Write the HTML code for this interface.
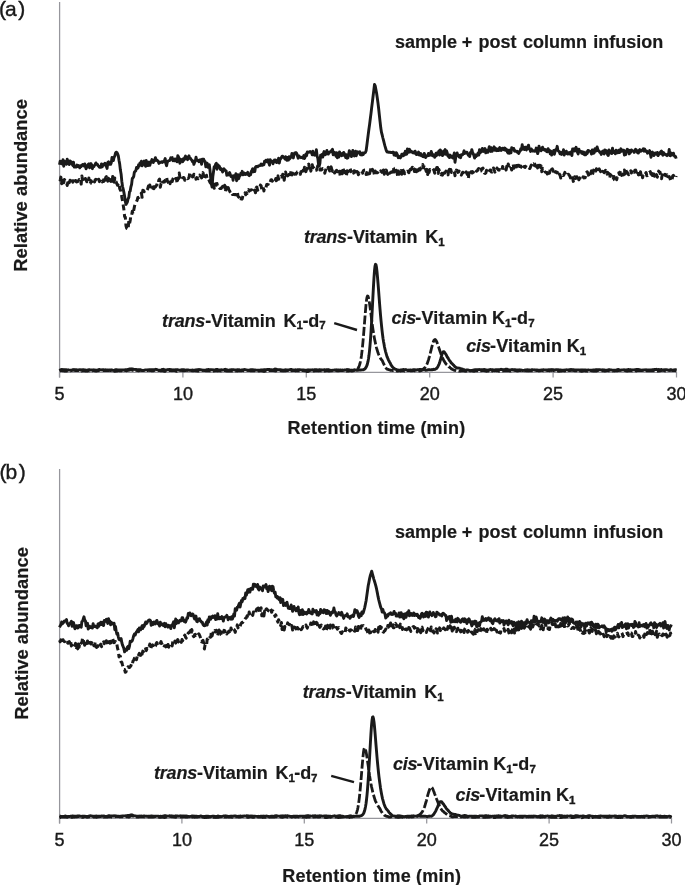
<!DOCTYPE html>
<html><head><meta charset="utf-8"><title>Figure</title>
<style>
html,body{margin:0;padding:0;background:#fff;}
body{width:685px;height:885px;overflow:hidden;font-family:"Liberation Sans",Arial,sans-serif;}
svg{display:block}
.ax line{stroke:#96969c;stroke-width:1.25}
.tr path{fill:none;stroke:#1a1a1a;stroke-linejoin:round;stroke-linecap:butt}
.tl text{font-size:18px;fill:#1a1a1a;text-anchor:middle;stroke:#1a1a1a;stroke-width:0.4px}
.b{font-weight:bold;font-size:18px;fill:#1a1a1a;stroke:#1a1a1a;stroke-width:0.2px}
.i{font-style:italic}
.sub{font-size:11.5px;stroke-width:0.4px}
.rl{font-size:18.4px}
.pl{font-size:21px;fill:#1a1a1a;stroke:#1a1a1a;stroke-width:0.4px}
</style></head><body>
<svg width="685" height="885" viewBox="0 0 685 885" font-family="'Liberation Sans',Arial,sans-serif">
<rect width="685" height="885" fill="#fff"/>
<g class="ax">
<line x1="59.6" y1="2" x2="59.6" y2="377.5"/>
<line x1="59" y1="372.4" x2="677" y2="372.4"/>
<line x1="59.5" y1="372.0" x2="59.5" y2="377.5"/><line x1="182.9" y1="372.0" x2="182.9" y2="377.5"/><line x1="306.3" y1="372.0" x2="306.3" y2="377.5"/><line x1="429.7" y1="372.0" x2="429.7" y2="377.5"/><line x1="553.1" y1="372.0" x2="553.1" y2="377.5"/><line x1="676.5" y1="372.0" x2="676.5" y2="377.5"/>
<line x1="59.6" y1="469" x2="59.6" y2="823.5"/>
<line x1="59" y1="818.4" x2="672" y2="818.4"/>
<line x1="59.5" y1="818.0" x2="59.5" y2="823.5"/><line x1="181.9" y1="818.0" x2="181.9" y2="823.5"/><line x1="304.3" y1="818.0" x2="304.3" y2="823.5"/><line x1="426.7" y1="818.0" x2="426.7" y2="823.5"/><line x1="549.1" y1="818.0" x2="549.1" y2="823.5"/><line x1="671.5" y1="818.0" x2="671.5" y2="823.5"/>
</g>
<g class="tl">
<text x="59.5" y="399.6">5</text><text x="182.9" y="399.6">10</text><text x="306.3" y="399.6">15</text><text x="429.7" y="399.6">20</text><text x="553.1" y="399.6">25</text><text x="676.5" y="399.6">30</text>
<text x="59.5" y="846.0">5</text><text x="181.9" y="846.0">10</text><text x="304.3" y="846.0">15</text><text x="426.7" y="846.0">20</text><text x="549.1" y="846.0">25</text><text x="671.5" y="846.0">30</text>
</g>
<text class="pl" x="-1.0 5.0 18.3" y="15.6">(a)</text>
<text class="pl" x="-0.6 5.6 18.7" y="478.9">(b)</text>
<text class="b rl" transform="translate(27.1,271.7) rotate(-90)">Relative abundance</text>
<text class="b rl" transform="translate(28.3,719.8) rotate(-90)">Relative abundance</text>
<text class="b" y="433.7" letter-spacing="0.22"><tspan x="287.5">Retention </tspan><tspan x="377.4">time </tspan><tspan x="420.4">(min)</tspan></text>
<text class="b" y="881.8" letter-spacing="0.22"><tspan x="282.2">Retention </tspan><tspan x="373.0">time </tspan><tspan x="416.0">(min)</tspan></text>
<text class="b" y="48.3"><tspan x="395.0">sample </tspan><tspan x="461.7">+ </tspan><tspan x="478.6">post </tspan><tspan x="522.9">column </tspan><tspan x="593.2">infusion</tspan></text>
<text class="b" y="538.0"><tspan x="395.0">sample </tspan><tspan x="461.7">+ </tspan><tspan x="478.6">post </tspan><tspan x="522.9">column </tspan><tspan x="593.2">infusion</tspan></text>

<text class="b" x="303.9" y="242.8"><tspan class="i" letter-spacing="-0.2">trans</tspan>-Vitamin<tspan dx="2.7"> K</tspan><tspan class="sub" dy="2.8" dx="0.05">1</tspan></text>
<text class="b" x="162.1" y="326.6"><tspan class="i" letter-spacing="-0.2">trans</tspan>-Vitamin<tspan dx="2.7"> K</tspan><tspan class="sub" dy="2.8" dx="0.05">1</tspan><tspan dy="-2.8" dx="-0.6">-d</tspan><tspan class="sub" dy="2.8" dx="-0.2">7</tspan></text>
<text class="b" x="391.6" y="323.8"><tspan class="i" letter-spacing="-0.2">cis</tspan><tspan dx="-0.75" letter-spacing="0.2">-Vitamin</tspan><tspan dx="-0.6"> K</tspan><tspan class="sub" dy="2.8" dx="0.05">1</tspan><tspan dy="-2.8" dx="-0.4">-d</tspan><tspan class="sub" dy="2.8" dx="0.1">7</tspan></text>
<text class="b" x="466.3" y="351.8"><tspan class="i" letter-spacing="-0.2">cis</tspan><tspan dx="-0.75" letter-spacing="0.2">-Vitamin</tspan><tspan dx="-0.6"> K</tspan><tspan class="sub" dy="2.8" dx="0.05">1</tspan></text>
<text class="b" x="302.8" y="698.0"><tspan class="i" letter-spacing="-0.2">trans</tspan>-Vitamin<tspan dx="2.7"> K</tspan><tspan class="sub" dy="2.8" dx="0.05">1</tspan></text>
<text class="b" x="154.0" y="778.7"><tspan class="i" letter-spacing="-0.2">trans</tspan>-Vitamin<tspan dx="2.7"> K</tspan><tspan class="sub" dy="2.8" dx="0.05">1</tspan><tspan dy="-2.8" dx="-0.6">-d</tspan><tspan class="sub" dy="2.8" dx="-0.2">7</tspan></text>
<text class="b" x="392.9" y="769.8"><tspan class="i" letter-spacing="-0.2">cis</tspan><tspan dx="-0.75" letter-spacing="0.2">-Vitamin</tspan><tspan dx="-0.6"> K</tspan><tspan class="sub" dy="2.8" dx="0.05">1</tspan><tspan dy="-2.8" dx="-0.4">-d</tspan><tspan class="sub" dy="2.8" dx="0.1">7</tspan></text>
<text class="b" x="455.6" y="800.9"><tspan class="i" letter-spacing="-0.2">cis</tspan><tspan dx="-0.75" letter-spacing="0.2">-Vitamin</tspan><tspan dx="-0.6"> K</tspan><tspan class="sub" dy="2.8" dx="0.05">1</tspan></text>

<g class="tr">
<path d="M59.5 179.2L60.2 180.0L60.9 177.1L61.6 183.7L62.3 178.5L63.0 180.5L63.7 182.8L64.4 179.5L65.1 180.6L65.8 180.6L66.5 182.5L67.2 185.5L67.9 181.6L68.6 179.5L69.3 182.7L70.0 180.3L70.7 181.2L71.4 183.8L72.1 180.8L72.8 182.2L73.5 180.9L74.2 182.4L74.9 182.9L75.6 180.5L76.3 181.9L77.0 181.8L77.7 181.5L78.4 180.6L79.1 179.6L79.8 181.1L80.5 180.6L81.2 184.1L81.9 176.0L82.6 179.7L83.3 180.7L84.0 182.1L84.7 180.9L85.4 178.5L86.1 180.1L86.8 181.8L87.5 180.6L88.2 182.2L88.9 177.9L89.6 183.8L90.3 183.6L91.0 180.6L91.7 181.8L92.4 181.0L93.1 179.3L93.8 180.4L94.5 182.0L95.2 179.7L95.9 179.3L96.6 179.6L97.3 180.0L98.0 182.1L98.7 179.3L99.4 181.6L100.1 180.3L100.8 179.0L101.5 180.8L102.2 182.0L102.9 180.6L103.6 181.5L104.3 177.0L105.0 180.4L105.7 177.5L106.4 176.6L107.1 179.6L107.8 181.1L108.5 178.2L109.2 181.4L109.9 179.7L110.6 181.1L111.3 179.3L112.0 183.7L112.7 176.4L113.4 181.2L114.1 182.2L114.8 178.1L115.5 181.7L116.2 182.0L116.9 183.9L117.6 185.3L118.3 183.6L119.0 182.9L119.7 188.5L120.4 190.0L121.1 191.4L121.8 196.9L122.5 200.8L123.2 205.1L123.9 209.6L124.6 216.5L125.3 217.1L126.0 225.9L126.7 228.4L127.4 228.7L128.1 229.6L128.8 221.1L129.5 223.9L130.2 220.5L130.9 215.4L131.6 215.6L132.3 211.2L133.0 213.9L133.7 210.5L134.4 206.7L135.1 204.1L135.8 203.1L136.5 201.5L137.2 200.1L137.9 197.4L138.6 197.5L139.3 197.3L140.0 195.8L140.7 194.5L141.4 193.0L142.1 197.3L142.8 190.3L143.5 190.4L144.2 191.7L144.9 189.9L145.6 190.4L146.3 190.2L147.0 190.2L147.7 188.9L148.4 186.0L149.1 189.6L149.8 184.9L150.5 186.9L151.2 186.5L151.9 185.5L152.6 188.2L153.3 186.9L154.0 188.6L154.7 183.9L155.4 187.1L156.1 185.8L156.8 185.1L157.5 182.1L158.2 182.9L158.9 179.9L159.6 179.1L160.3 187.3L161.0 183.7L161.7 184.0L162.4 180.8L163.1 182.1L163.8 181.4L164.5 182.0L165.2 180.3L165.9 179.6L166.6 177.1L167.3 181.2L168.0 182.0L168.7 183.6L169.4 180.4L170.1 183.7L170.8 180.5L171.5 178.5L172.2 181.6L172.9 178.9L173.6 177.8L174.3 179.9L175.0 180.1L175.7 178.4L176.4 178.5L177.1 183.5L177.8 178.1L178.5 178.9L179.2 173.1L179.9 177.0L180.6 178.7L181.3 176.8L182.0 176.4L182.7 177.8L183.4 177.5L184.1 177.7L184.8 180.3L185.5 179.7L186.2 178.8L186.9 177.6L187.6 178.6L188.3 178.3L189.0 177.4L189.7 173.4L190.4 175.8L191.1 176.1L191.8 175.8L192.5 177.0L193.2 176.6L193.9 174.2L194.6 174.7L195.3 174.5L196.0 179.3L196.7 177.6L197.4 178.0L198.1 178.7L198.8 176.1L199.5 175.1L200.2 176.1L200.9 175.9L201.6 177.9L202.3 176.0L203.0 172.6L203.7 175.8L204.4 176.5L205.1 173.5L205.8 177.0L206.5 175.2L207.2 179.8L207.9 180.0L208.6 179.5L209.3 180.7L210.0 182.6L210.7 182.4L211.4 185.2L212.1 185.9L212.8 183.9L213.5 184.2L214.2 188.3L214.9 185.3L215.6 183.8L216.3 185.2L217.0 183.5L217.7 187.1L218.4 186.7L219.1 187.4L219.8 188.4L220.5 188.3L221.2 188.5L221.9 187.3L222.6 186.4L223.3 186.7L224.0 189.0L224.7 185.3L225.4 191.9L226.1 187.1L226.8 189.9L227.5 188.9L228.2 187.5L228.9 190.1L229.6 190.8L230.3 192.4L231.0 193.7L231.7 192.7L232.4 194.5L233.1 194.6L233.8 194.6L234.5 194.5L235.2 194.7L235.9 194.6L236.6 194.9L237.3 191.7L238.0 196.1L238.7 197.2L239.4 197.5L240.1 199.4L240.8 201.0L241.5 198.3L242.2 198.8L242.9 195.9L243.6 195.1L244.3 194.9L245.0 192.9L245.7 194.8L246.4 192.7L247.1 193.5L247.8 190.6L248.5 189.7L249.2 191.2L249.9 190.3L250.6 190.3L251.3 189.7L252.0 190.1L252.7 192.1L253.4 192.7L254.1 191.3L254.8 190.0L255.5 192.8L256.2 187.6L256.9 187.0L257.6 190.3L258.3 189.1L259.0 188.5L259.7 188.0L260.4 185.0L261.1 185.7L261.8 189.7L262.5 189.4L263.2 187.2L263.9 191.0L264.6 186.8L265.3 187.1L266.0 187.5L266.7 184.5L267.4 184.9L268.1 184.4L268.8 182.4L269.5 183.4L270.2 182.1L270.9 179.9L271.6 179.7L272.3 181.1L273.0 180.0L273.7 179.0L274.4 181.2L275.1 180.7L275.8 178.5L276.5 180.6L277.2 176.4L277.9 175.8L278.6 179.3L279.3 176.5L280.0 176.5L280.7 177.2L281.4 176.2L282.1 177.2L282.8 174.2L283.5 175.0L284.2 180.2L284.9 175.6L285.6 172.0L286.3 175.1L287.0 175.0L287.7 175.9L288.4 173.7L289.1 172.3L289.8 174.8L290.5 173.7L291.2 170.1L291.9 174.9L292.6 173.1L293.3 175.3L294.0 172.7L294.7 174.3L295.4 173.6L296.1 174.1L296.8 172.9L297.5 171.8L298.2 171.6L298.9 172.9L299.6 172.9L300.3 174.3L301.0 171.6L301.7 171.3L302.4 173.9L303.1 170.2L303.8 170.7L304.5 167.2L305.2 168.7L305.9 171.6L306.6 168.2L307.3 169.0L308.0 164.8L308.7 164.1L309.4 167.8L310.1 165.1L310.8 171.2L311.5 168.8L312.2 164.7L312.9 167.8L313.6 167.5L314.3 168.5L315.0 167.8L315.7 169.0L316.4 170.2L317.1 168.1L317.8 165.8L318.5 167.9L319.2 167.7L319.9 170.0L320.6 168.7L321.3 169.9L322.0 169.5L322.7 168.6L323.4 168.8L324.1 170.2L324.8 173.2L325.5 170.4L326.2 168.3L326.9 169.9L327.6 169.6L328.3 167.2L329.0 169.2L329.7 171.0L330.4 168.2L331.1 166.8L331.8 169.2L332.5 171.4L333.2 170.0L333.9 170.5L334.6 173.0L335.3 171.8L336.0 170.8L336.7 170.4L337.4 171.7L338.1 171.3L338.8 173.5L339.5 171.3L340.2 175.8L340.9 172.8L341.6 171.1L342.3 173.7L343.0 168.6L343.7 170.3L344.4 171.4L345.1 172.7L345.8 171.5L346.5 175.2L347.2 170.8L347.9 171.8L348.6 170.2L349.3 172.2L350.0 170.3L350.7 171.6L351.4 169.8L352.1 169.6L352.8 171.0L353.5 173.1L354.2 170.7L354.9 171.1L355.6 172.8L356.3 174.3L357.0 171.5L357.7 172.4L358.4 174.7L359.1 173.1L359.8 173.6L360.5 174.8L361.2 173.5L361.9 172.8L362.6 173.2L363.3 170.8L364.0 170.4L364.7 170.0L365.4 170.0L366.1 174.5L366.8 172.6L367.5 174.2L368.2 174.1L368.9 171.8L369.6 173.7L370.3 170.9L371.0 168.4L371.7 170.8L372.4 169.4L373.1 171.0L373.8 172.0L374.5 175.1L375.2 170.9L375.9 172.2L376.6 172.7L377.3 172.7L378.0 172.2L378.7 171.0L379.4 171.7L380.1 172.5L380.8 170.8L381.5 171.8L382.2 171.0L382.9 174.1L383.6 170.1L384.3 174.3L385.0 170.9L385.7 170.0L386.4 170.2L387.1 173.4L387.8 174.3L388.5 171.2L389.2 173.3L389.9 173.1L390.6 172.5L391.3 172.2L392.0 172.2L392.7 167.6L393.4 168.0L394.1 172.1L394.8 171.6L395.5 173.2L396.2 170.2L396.9 171.7L397.6 175.9L398.3 171.1L399.0 174.3L399.7 172.3L400.4 172.6L401.1 170.6L401.8 174.2L402.5 168.7L403.2 170.8L403.9 171.2L404.6 173.8L405.3 172.4L406.0 172.9L406.7 171.5L407.4 171.2L408.1 171.6L408.8 172.7L409.5 170.5L410.2 167.0L410.9 169.8L411.6 168.4L412.3 167.2L413.0 167.8L413.7 166.8L414.4 171.6L415.1 168.9L415.8 167.4L416.5 171.8L417.2 169.9L417.9 172.8L418.6 171.5L419.3 168.7L420.0 170.0L420.7 168.0L421.4 168.2L422.1 167.5L422.8 164.5L423.5 167.8L424.2 165.1L424.9 166.1L425.6 169.4L426.3 171.5L427.0 169.5L427.7 174.6L428.4 168.2L429.1 172.5L429.8 169.5L430.5 169.9L431.2 168.8L431.9 168.2L432.6 168.2L433.3 169.1L434.0 170.5L434.7 173.2L435.4 169.0L436.1 169.7L436.8 167.4L437.5 167.5L438.2 173.4L438.9 169.5L439.6 171.7L440.3 173.6L441.0 174.8L441.7 173.4L442.4 175.2L443.1 173.2L443.8 170.5L444.5 173.3L445.2 172.4L445.9 171.1L446.6 172.8L447.3 172.5L448.0 174.9L448.7 170.7L449.4 169.3L450.1 172.3L450.8 169.5L451.5 172.5L452.2 172.3L452.9 170.5L453.6 171.3L454.3 171.6L455.0 175.7L455.7 172.7L456.4 170.1L457.1 170.4L457.8 172.4L458.5 172.1L459.2 171.2L459.9 172.7L460.6 172.6L461.3 175.1L462.0 173.6L462.7 172.2L463.4 172.7L464.1 171.2L464.8 173.6L465.5 172.8L466.2 171.9L466.9 173.7L467.6 174.0L468.3 178.7L469.0 172.8L469.7 174.2L470.4 174.4L471.1 171.8L471.8 172.9L472.5 171.6L473.2 172.6L473.9 173.6L474.6 174.6L475.3 173.4L476.0 171.7L476.7 170.8L477.4 170.8L478.1 169.1L478.8 168.5L479.5 171.6L480.2 171.0L480.9 170.9L481.6 168.9L482.3 169.2L483.0 168.1L483.7 170.8L484.4 173.1L485.1 173.4L485.8 173.0L486.5 170.3L487.2 171.5L487.9 171.3L488.6 172.9L489.3 171.6L490.0 169.9L490.7 169.9L491.4 171.9L492.1 172.0L492.8 171.1L493.5 167.9L494.2 169.9L494.9 172.1L495.6 170.7L496.3 171.2L497.0 168.0L497.7 169.1L498.4 169.9L499.1 170.3L499.8 169.6L500.5 169.9L501.2 171.1L501.9 171.2L502.6 166.5L503.3 167.9L504.0 168.2L504.7 167.8L505.4 166.5L506.1 170.1L506.8 166.2L507.5 168.3L508.2 163.9L508.9 165.8L509.6 166.0L510.3 164.8L511.0 167.6L511.7 170.0L512.4 164.9L513.1 164.1L513.8 168.3L514.5 166.7L515.2 165.9L515.9 163.6L516.6 166.9L517.3 165.8L518.0 168.7L518.7 165.3L519.4 166.4L520.1 166.0L520.8 166.1L521.5 167.4L522.2 167.7L522.9 164.9L523.6 166.8L524.3 166.5L525.0 167.5L525.7 166.3L526.4 165.1L527.1 165.8L527.8 166.9L528.5 167.7L529.2 168.2L529.9 168.5L530.6 166.7L531.3 165.1L532.0 166.4L532.7 164.2L533.4 163.9L534.1 165.3L534.8 165.2L535.5 166.2L536.2 163.9L536.9 163.8L537.6 167.9L538.3 165.4L539.0 169.0L539.7 165.2L540.4 167.4L541.1 165.8L541.8 171.7L542.5 168.1L543.2 169.7L543.9 169.6L544.6 171.2L545.3 172.1L546.0 172.4L546.7 172.5L547.4 174.0L548.1 170.3L548.8 173.0L549.5 173.2L550.2 169.2L550.9 171.4L551.6 169.4L552.3 168.8L553.0 170.2L553.7 173.7L554.4 174.6L555.1 172.8L555.8 171.7L556.5 172.8L557.2 172.2L557.9 172.8L558.6 170.9L559.3 174.2L560.0 174.9L560.7 178.0L561.4 175.7L562.1 174.9L562.8 175.6L563.5 175.6L564.2 174.2L564.9 172.4L565.6 175.3L566.3 175.5L567.0 175.6L567.7 174.4L568.4 174.2L569.1 175.1L569.8 176.0L570.5 178.0L571.2 178.1L571.9 180.2L572.6 177.8L573.3 181.4L574.0 179.6L574.7 176.8L575.4 178.4L576.1 178.3L576.8 176.7L577.5 179.9L578.2 178.2L578.9 179.8L579.6 177.8L580.3 179.3L581.0 180.3L581.7 178.4L582.4 178.3L583.1 176.9L583.8 177.9L584.5 177.3L585.2 177.6L585.9 175.5L586.6 172.3L587.3 171.8L588.0 173.6L588.7 175.5L589.4 177.4L590.1 174.7L590.8 172.8L591.5 170.8L592.2 175.2L592.9 173.3L593.6 170.1L594.3 173.3L595.0 171.6L595.7 171.2L596.4 168.7L597.1 172.7L597.8 171.0L598.5 169.8L599.2 168.9L599.9 170.3L600.6 171.7L601.3 170.3L602.0 172.4L602.7 171.3L603.4 171.8L604.1 172.7L604.8 172.0L605.5 170.3L606.2 172.2L606.9 174.1L607.6 172.3L608.3 173.4L609.0 173.4L609.7 178.2L610.4 174.5L611.1 175.5L611.8 176.0L612.5 179.9L613.2 179.6L613.9 176.4L614.6 178.1L615.3 175.4L616.0 176.6L616.7 179.7L617.4 176.6L618.1 175.2L618.8 172.9L619.5 174.4L620.2 172.3L620.9 170.6L621.6 175.4L622.3 174.6L623.0 174.0L623.7 174.9L624.4 170.1L625.1 174.0L625.8 169.4L626.5 172.2L627.2 172.3L627.9 173.6L628.6 174.8L629.3 172.1L630.0 171.8L630.7 170.8L631.4 173.0L632.1 170.8L632.8 169.7L633.5 170.4L634.2 172.3L634.9 170.3L635.6 170.1L636.3 172.1L637.0 170.5L637.7 170.1L638.4 174.7L639.1 173.9L639.8 177.2L640.5 171.8L641.2 175.6L641.9 173.8L642.6 177.8L643.3 174.2L644.0 173.7L644.7 174.7L645.4 173.8L646.1 172.6L646.8 175.7L647.5 175.6L648.2 174.9L648.9 173.4L649.6 172.1L650.3 171.6L651.0 174.1L651.7 171.5L652.4 175.6L653.1 174.5L653.8 173.9L654.5 176.3L655.2 175.0L655.9 176.8L656.6 174.6L657.3 177.2L658.0 174.0L658.7 171.1L659.4 172.4L660.1 172.2L660.8 177.1L661.5 178.7L662.2 175.1L662.9 173.1L663.6 176.2L664.3 175.4L665.0 174.2L665.7 175.5L666.4 175.9L667.1 174.7L667.8 178.2L668.5 176.9L669.2 176.6L669.9 177.7L670.6 180.8L671.3 181.1L672.0 179.8L672.7 176.1L673.4 175.3L674.1 177.4L674.8 177.5L675.5 178.3L676.2 175.9" stroke-width="3.0" stroke-dasharray="6 3.6"/>
<path d="M59.5 164.7L60.2 161.1L60.9 162.0L61.6 161.3L62.3 164.1L63.0 159.6L63.7 166.2L64.4 161.1L65.1 163.4L65.8 161.4L66.5 164.4L67.2 159.2L67.9 161.2L68.6 161.4L69.3 164.6L70.0 160.9L70.7 162.9L71.4 161.9L72.1 164.0L72.8 165.4L73.5 162.1L74.2 167.1L74.9 167.0L75.6 166.9L76.3 167.0L77.0 165.0L77.7 166.6L78.4 165.5L79.1 166.2L79.8 167.8L80.5 165.7L81.2 166.4L81.9 165.2L82.6 164.5L83.3 164.7L84.0 165.9L84.7 163.9L85.4 166.4L86.1 168.8L86.8 167.1L87.5 165.5L88.2 164.4L88.9 163.8L89.6 167.8L90.3 164.6L91.0 163.6L91.7 165.6L92.4 168.7L93.1 165.9L93.8 166.7L94.5 165.4L95.2 164.5L95.9 162.9L96.6 164.1L97.3 164.1L98.0 165.6L98.7 166.1L99.4 167.2L100.1 166.5L100.8 167.3L101.5 163.9L102.2 166.8L102.9 165.2L103.6 164.3L104.3 164.8L105.0 163.3L105.7 165.2L106.4 166.5L107.1 168.4L107.8 162.4L108.5 161.8L109.2 163.7L109.9 164.4L110.6 164.4L111.3 162.7L112.0 157.5L112.7 159.7L113.4 160.4L114.1 157.1L114.8 156.1L115.5 153.2L116.2 152.2L116.9 152.5L117.6 153.9L118.3 155.7L119.0 160.2L119.7 164.1L120.4 170.1L121.1 173.9L121.8 181.2L122.5 186.3L123.2 189.0L123.9 192.4L124.6 196.2L125.3 201.5L126.0 204.4L126.7 203.3L127.4 201.9L128.1 198.8L128.8 197.6L129.5 191.9L130.2 191.1L130.9 186.8L131.6 184.3L132.3 178.4L133.0 177.8L133.7 176.5L134.4 172.0L135.1 171.4L135.8 170.7L136.5 167.5L137.2 168.5L137.9 168.1L138.6 164.7L139.3 165.9L140.0 162.9L140.7 163.3L141.4 161.2L142.1 165.9L142.8 164.1L143.5 162.9L144.2 161.1L144.9 164.5L145.6 166.3L146.3 160.4L147.0 165.3L147.7 165.6L148.4 163.6L149.1 162.0L149.8 165.4L150.5 162.9L151.2 161.7L151.9 159.6L152.6 162.1L153.3 162.5L154.0 159.9L154.7 160.6L155.4 157.6L156.1 160.2L156.8 159.9L157.5 160.8L158.2 161.3L158.9 163.4L159.6 162.9L160.3 162.3L161.0 162.2L161.7 161.8L162.4 162.4L163.1 161.5L163.8 161.7L164.5 160.4L165.2 158.5L165.9 163.6L166.6 165.7L167.3 162.2L168.0 161.1L168.7 160.6L169.4 160.6L170.1 159.9L170.8 157.8L171.5 158.1L172.2 157.5L172.9 160.7L173.6 160.0L174.3 160.8L175.0 158.9L175.7 160.8L176.4 159.3L177.1 161.8L177.8 155.6L178.5 157.0L179.2 159.5L179.9 163.2L180.6 159.1L181.3 160.0L182.0 159.7L182.7 161.7L183.4 158.7L184.1 160.1L184.8 157.7L185.5 156.1L186.2 158.6L186.9 158.6L187.6 159.6L188.3 156.9L189.0 155.9L189.7 158.3L190.4 158.3L191.1 159.4L191.8 160.2L192.5 161.7L193.2 161.0L193.9 164.4L194.6 162.2L195.3 161.2L196.0 157.2L196.7 160.2L197.4 160.3L198.1 160.8L198.8 161.6L199.5 159.9L200.2 161.8L200.9 159.7L201.6 164.3L202.3 159.1L203.0 159.2L203.7 159.3L204.4 161.2L205.1 161.6L205.8 166.7L206.5 163.5L207.2 163.2L207.9 167.3L208.6 165.2L209.3 164.7L210.0 170.3L210.7 177.7L211.4 184.2L212.1 187.1L212.8 176.9L213.5 171.7L214.2 166.6L214.9 167.6L215.6 164.3L216.3 163.3L217.0 169.2L217.7 164.6L218.4 165.5L219.1 165.9L219.8 167.4L220.5 169.4L221.2 168.6L221.9 170.3L222.6 171.9L223.3 170.3L224.0 168.8L224.7 170.0L225.4 170.5L226.1 170.8L226.8 175.3L227.5 173.7L228.2 174.0L228.9 174.9L229.6 172.6L230.3 174.6L231.0 176.5L231.7 176.4L232.4 176.0L233.1 180.2L233.8 175.6L234.5 177.0L235.2 177.1L235.9 173.7L236.6 180.7L237.3 177.5L238.0 174.7L238.7 178.7L239.4 176.4L240.1 175.6L240.8 173.3L241.5 174.3L242.2 171.3L242.9 174.8L243.6 172.8L244.3 173.3L245.0 174.6L245.7 173.7L246.4 173.4L247.1 174.3L247.8 172.3L248.5 175.0L249.2 175.6L249.9 174.5L250.6 174.8L251.3 171.4L252.0 170.1L252.7 168.7L253.4 171.9L254.1 169.1L254.8 171.6L255.5 167.0L256.2 166.4L256.9 166.4L257.6 166.8L258.3 165.9L259.0 165.8L259.7 165.6L260.4 165.3L261.1 164.1L261.8 165.4L262.5 165.3L263.2 164.1L263.9 164.6L264.6 161.1L265.3 162.1L266.0 160.2L266.7 161.3L267.4 161.9L268.1 159.8L268.8 162.6L269.5 165.2L270.2 159.7L270.9 161.0L271.6 160.9L272.3 161.6L273.0 163.8L273.7 161.7L274.4 160.0L275.1 161.6L275.8 160.0L276.5 162.6L277.2 161.4L277.9 162.3L278.6 158.3L279.3 163.1L280.0 159.4L280.7 158.7L281.4 157.5L282.1 156.3L282.8 156.3L283.5 157.3L284.2 157.4L284.9 158.9L285.6 156.7L286.3 159.7L287.0 160.3L287.7 157.6L288.4 160.1L289.1 156.6L289.8 158.8L290.5 157.0L291.2 157.3L291.9 153.5L292.6 155.4L293.3 157.9L294.0 154.7L294.7 152.9L295.4 153.7L296.1 152.6L296.8 153.6L297.5 156.1L298.2 158.2L298.9 156.0L299.6 156.9L300.3 157.1L301.0 157.7L301.7 157.5L302.4 157.1L303.1 158.2L303.8 155.6L304.5 158.5L305.2 156.9L305.9 154.1L306.6 155.6L307.3 151.9L308.0 152.1L308.7 152.4L309.4 151.8L310.1 151.5L310.8 152.3L311.5 152.5L312.2 154.8L312.9 151.1L313.6 154.8L314.3 153.4L315.0 155.2L315.7 154.4L316.4 149.8L317.1 156.0L317.8 158.2L318.5 164.0L319.2 166.1L319.9 163.3L320.6 155.2L321.3 156.2L322.0 154.4L322.7 157.1L323.4 153.6L324.1 151.6L324.8 154.8L325.5 154.5L326.2 153.1L326.9 150.5L327.6 152.5L328.3 154.1L329.0 152.6L329.7 152.2L330.4 152.0L331.1 150.7L331.8 151.1L332.5 149.3L333.2 154.8L333.9 152.2L334.6 154.2L335.3 152.8L336.0 156.2L336.7 152.7L337.4 157.7L338.1 154.5L338.8 157.0L339.5 151.9L340.2 153.7L340.9 153.8L341.6 155.7L342.3 153.5L343.0 155.3L343.7 152.4L344.4 153.7L345.1 155.8L345.8 157.6L346.5 154.7L347.2 158.2L347.9 157.8L348.6 155.1L349.3 150.8L350.0 151.9L350.7 154.0L351.4 156.6L352.1 154.3L352.8 150.5L353.5 152.8L354.2 156.0L354.9 153.2L355.6 151.2L356.3 155.7L357.0 152.6L357.7 151.8L358.4 153.0L359.1 152.7L359.8 151.7L360.5 154.9L361.2 154.6L361.9 154.9L362.6 153.0L363.3 154.4L364.0 152.9L364.7 152.8L365.4 152.5L366.1 150.8L366.8 145.7L367.5 140.1L368.2 134.6L368.9 129.3L369.6 124.4L370.3 118.8L371.0 113.4L371.7 107.4L372.4 101.9L373.1 96.0L373.8 90.4L374.5 84.4L375.2 85.8L375.9 89.6L376.6 93.3L377.3 98.0L378.0 103.1L378.7 109.0L379.4 115.6L380.1 121.8L380.8 128.1L381.5 132.4L382.2 135.0L382.9 138.0L383.6 140.7L384.3 143.5L385.0 146.2L385.7 148.5L386.4 150.8L387.1 152.0L387.8 151.9L388.5 152.2L389.2 152.1L389.9 152.2L390.6 152.5L391.3 152.4L392.0 152.5L392.7 152.2L393.4 152.1L394.1 155.1L394.8 153.0L395.5 155.4L396.2 152.7L396.9 153.7L397.6 155.8L398.3 157.7L399.0 156.2L399.7 156.9L400.4 157.9L401.1 156.6L401.8 154.2L402.5 154.6L403.2 155.8L403.9 153.4L404.6 154.9L405.3 151.3L406.0 153.4L406.7 154.2L407.4 148.9L408.1 150.6L408.8 152.2L409.5 149.3L410.2 151.9L410.9 151.0L411.6 151.5L412.3 152.5L413.0 152.8L413.7 152.1L414.4 153.1L415.1 151.2L415.8 153.2L416.5 154.6L417.2 153.1L417.9 154.2L418.6 152.1L419.3 155.1L420.0 153.8L420.7 153.4L421.4 155.8L422.1 155.0L422.8 156.5L423.5 156.7L424.2 153.4L424.9 155.1L425.6 157.5L426.3 156.3L427.0 155.7L427.7 155.8L428.4 153.4L429.1 155.4L429.8 155.1L430.5 155.1L431.2 151.5L431.9 153.5L432.6 155.8L433.3 154.8L434.0 154.9L434.7 157.3L435.4 156.2L436.1 153.1L436.8 155.4L437.5 153.0L438.2 152.8L438.9 151.0L439.6 155.1L440.3 150.0L441.0 151.1L441.7 153.6L442.4 155.6L443.1 155.1L443.8 150.9L444.5 152.1L445.2 149.6L445.9 154.4L446.6 150.8L447.3 153.2L448.0 156.3L448.7 155.0L449.4 157.6L450.1 155.1L450.8 156.2L451.5 157.3L452.2 156.2L452.9 158.0L453.6 156.2L454.3 153.0L455.0 162.2L455.7 157.5L456.4 155.7L457.1 153.0L457.8 155.4L458.5 155.0L459.2 156.9L459.9 155.6L460.6 157.7L461.3 154.8L462.0 154.8L462.7 154.7L463.4 153.0L464.1 150.8L464.8 153.4L465.5 153.2L466.2 152.4L466.9 152.2L467.6 153.7L468.3 155.2L469.0 154.2L469.7 156.6L470.4 152.4L471.1 153.4L471.8 149.6L472.5 152.0L473.2 153.7L473.9 155.6L474.6 158.1L475.3 154.9L476.0 156.6L476.7 154.7L477.4 155.5L478.1 152.9L478.8 155.0L479.5 149.8L480.2 152.8L480.9 150.6L481.6 151.6L482.3 148.5L483.0 149.0L483.7 151.4L484.4 150.9L485.1 148.6L485.8 152.9L486.5 150.5L487.2 152.2L487.9 152.3L488.6 149.5L489.3 146.7L490.0 148.8L490.7 151.4L491.4 147.7L492.1 151.4L492.8 148.7L493.5 150.1L494.2 146.8L494.9 150.2L495.6 148.3L496.3 150.7L497.0 149.2L497.7 150.5L498.4 148.7L499.1 150.5L499.8 147.6L500.5 148.6L501.2 150.4L501.9 149.2L502.6 148.2L503.3 148.5L504.0 149.7L504.7 148.1L505.4 150.3L506.1 149.1L506.8 149.8L507.5 152.3L508.2 153.1L508.9 150.2L509.6 153.3L510.3 149.9L511.0 152.9L511.7 147.7L512.4 148.1L513.1 148.4L513.8 148.5L514.5 151.2L515.2 150.6L515.9 151.1L516.6 151.9L517.3 151.2L518.0 152.4L518.7 153.5L519.4 151.9L520.1 150.9L520.8 148.8L521.5 149.9L522.2 144.8L522.9 148.0L523.6 147.4L524.3 149.6L525.0 147.3L525.7 147.3L526.4 150.0L527.1 146.9L527.8 148.7L528.5 145.1L529.2 148.3L529.9 149.7L530.6 151.4L531.3 148.9L532.0 150.1L532.7 151.0L533.4 150.8L534.1 150.9L534.8 151.3L535.5 151.0L536.2 148.1L536.9 148.3L537.6 153.6L538.3 151.8L539.0 146.1L539.7 148.8L540.4 149.5L541.1 150.8L541.8 149.1L542.5 147.2L543.2 149.4L543.9 149.1L544.6 150.3L545.3 149.5L546.0 149.8L546.7 151.6L547.4 151.8L548.1 148.7L548.8 150.5L549.5 150.2L550.2 153.8L550.9 151.2L551.6 155.0L552.3 152.7L553.0 152.3L553.7 150.4L554.4 154.2L555.1 151.4L555.8 149.5L556.5 149.7L557.2 146.3L557.9 150.5L558.6 151.2L559.3 151.8L560.0 153.7L560.7 152.2L561.4 154.4L562.1 153.7L562.8 152.8L563.5 149.7L564.2 155.0L564.9 152.9L565.6 153.1L566.3 151.2L567.0 153.7L567.7 154.1L568.4 153.4L569.1 152.5L569.8 154.0L570.5 153.1L571.2 151.8L571.9 155.5L572.6 149.0L573.3 149.5L574.0 148.8L574.7 151.0L575.4 149.8L576.1 147.3L576.8 149.9L577.5 152.3L578.2 153.9L578.9 149.1L579.6 151.4L580.3 151.8L581.0 151.5L581.7 153.3L582.4 151.8L583.1 153.8L583.8 152.2L584.5 154.8L585.2 153.2L585.9 154.7L586.6 152.1L587.3 153.5L588.0 150.5L588.7 150.7L589.4 151.1L590.1 151.3L590.8 151.6L591.5 154.0L592.2 149.9L592.9 150.2L593.6 153.4L594.3 152.5L595.0 148.7L595.7 151.0L596.4 150.8L597.1 146.9L597.8 149.4L598.5 150.8L599.2 151.3L599.9 152.5L600.6 152.4L601.3 154.4L602.0 151.9L602.7 151.2L603.4 151.0L604.1 154.0L604.8 149.9L605.5 152.9L606.2 150.6L606.9 152.4L607.6 154.7L608.3 155.5L609.0 150.0L609.7 151.4L610.4 153.0L611.1 151.0L611.8 153.6L612.5 148.3L613.2 152.4L613.9 152.5L614.6 151.5L615.3 153.8L616.0 150.2L616.7 152.9L617.4 150.9L618.1 152.7L618.8 150.2L619.5 152.6L620.2 151.6L620.9 148.8L621.6 151.3L622.3 150.3L623.0 150.1L623.7 150.1L624.4 155.1L625.1 152.9L625.8 154.4L626.5 150.7L627.2 149.3L627.9 151.0L628.6 150.1L629.3 153.9L630.0 150.5L630.7 152.4L631.4 149.9L632.1 150.4L632.8 150.8L633.5 151.3L634.2 152.4L634.9 151.2L635.6 149.3L636.3 149.9L637.0 151.3L637.7 152.8L638.4 153.0L639.1 150.5L639.8 149.6L640.5 151.3L641.2 151.1L641.9 150.1L642.6 150.0L643.3 148.7L644.0 151.2L644.7 149.1L645.4 151.3L646.1 150.7L646.8 151.2L647.5 153.2L648.2 152.2L648.9 152.7L649.6 150.6L650.3 153.5L651.0 157.3L651.7 152.8L652.4 152.1L653.1 153.7L653.8 155.6L654.5 154.7L655.2 152.9L655.9 153.1L656.6 154.3L657.3 152.4L658.0 155.6L658.7 154.5L659.4 153.0L660.1 153.6L660.8 151.8L661.5 151.0L662.2 153.9L662.9 155.2L663.6 152.6L664.3 154.2L665.0 153.9L665.7 154.7L666.4 154.6L667.1 155.6L667.8 154.3L668.5 154.6L669.2 149.5L669.9 155.6L670.6 155.7L671.3 153.1L672.0 154.4L672.7 155.0L673.4 153.2L674.1 155.4L674.8 156.6L675.5 156.5L676.2 158.6" stroke-width="2.9"/>
<path d="M59.5 640.2L60.2 641.8L60.9 639.9L61.6 643.5L62.3 641.7L63.0 639.7L63.7 641.0L64.4 641.7L65.1 641.4L65.8 639.6L66.5 641.8L67.2 642.2L67.9 643.3L68.6 643.1L69.3 641.5L70.0 644.2L70.7 642.1L71.4 645.9L72.1 644.5L72.8 643.5L73.5 642.7L74.2 644.8L74.9 645.4L75.6 643.3L76.3 649.4L77.0 646.7L77.7 648.9L78.4 644.0L79.1 647.2L79.8 641.8L80.5 642.6L81.2 643.2L81.9 642.2L82.6 637.8L83.3 639.8L84.0 643.0L84.7 645.2L85.4 643.4L86.1 641.8L86.8 643.5L87.5 641.0L88.2 643.1L88.9 640.3L89.6 642.7L90.3 643.2L91.0 644.0L91.7 642.6L92.4 645.0L93.1 643.6L93.8 645.6L94.5 646.0L95.2 642.5L95.9 646.2L96.6 647.4L97.3 645.9L98.0 646.4L98.7 643.4L99.4 645.7L100.1 644.9L100.8 644.2L101.5 646.7L102.2 643.2L102.9 643.0L103.6 641.9L104.3 643.6L105.0 641.8L105.7 645.0L106.4 640.8L107.1 641.8L107.8 644.6L108.5 643.2L109.2 641.6L109.9 643.3L110.6 641.4L111.3 642.7L112.0 640.9L112.7 638.9L113.4 640.9L114.1 642.7L114.8 642.0L115.5 641.6L116.2 644.5L116.9 644.3L117.6 648.5L118.3 650.5L119.0 656.9L119.7 656.0L120.4 656.4L121.1 662.0L121.8 662.2L122.5 664.9L123.2 667.0L123.9 669.6L124.6 669.6L125.3 672.3L126.0 671.9L126.7 669.1L127.4 669.1L128.1 666.8L128.8 667.4L129.5 667.4L130.2 666.6L130.9 665.9L131.6 663.4L132.3 664.6L133.0 661.0L133.7 660.3L134.4 658.3L135.1 658.1L135.8 656.0L136.5 659.8L137.2 656.5L137.9 653.5L138.6 654.8L139.3 653.4L140.0 655.2L140.7 655.4L141.4 652.3L142.1 654.1L142.8 651.1L143.5 652.0L144.2 652.9L144.9 650.9L145.6 648.7L146.3 650.6L147.0 648.5L147.7 649.0L148.4 649.4L149.1 646.8L149.8 644.0L150.5 649.4L151.2 647.2L151.9 645.5L152.6 644.9L153.3 647.7L154.0 646.7L154.7 647.0L155.4 646.2L156.1 643.7L156.8 642.5L157.5 643.7L158.2 642.7L158.9 643.2L159.6 641.7L160.3 643.1L161.0 641.6L161.7 643.3L162.4 644.8L163.1 647.1L163.8 647.5L164.5 645.9L165.2 646.2L165.9 645.6L166.6 648.2L167.3 647.8L168.0 644.5L168.7 647.2L169.4 644.3L170.1 644.6L170.8 645.2L171.5 644.2L172.2 645.9L172.9 640.7L173.6 640.5L174.3 642.2L175.0 641.0L175.7 643.1L176.4 638.8L177.1 641.0L177.8 639.5L178.5 642.0L179.2 642.3L179.9 643.5L180.6 641.3L181.3 642.3L182.0 639.5L182.7 640.7L183.4 637.3L184.1 636.5L184.8 635.1L185.5 637.1L186.2 638.3L186.9 634.6L187.6 634.3L188.3 632.9L189.0 632.6L189.7 631.9L190.4 630.6L191.1 634.4L191.8 629.6L192.5 633.2L193.2 635.9L193.9 636.7L194.6 634.7L195.3 634.4L196.0 635.4L196.7 635.1L197.4 636.3L198.1 634.5L198.8 633.8L199.5 635.1L200.2 636.8L200.9 639.4L201.6 641.9L202.3 641.1L203.0 640.4L203.7 642.8L204.4 648.9L205.1 644.4L205.8 644.5L206.5 645.5L207.2 639.1L207.9 639.0L208.6 637.5L209.3 635.6L210.0 637.0L210.7 637.2L211.4 631.7L212.1 635.9L212.8 633.0L213.5 633.8L214.2 633.1L214.9 630.6L215.6 632.0L216.3 630.2L217.0 635.1L217.7 635.6L218.4 632.0L219.1 630.0L219.8 633.8L220.5 631.4L221.2 634.8L221.9 635.4L222.6 635.7L223.3 632.2L224.0 630.4L224.7 630.7L225.4 631.6L226.1 630.8L226.8 634.0L227.5 632.9L228.2 631.9L228.9 631.1L229.6 632.9L230.3 634.0L231.0 627.9L231.7 630.6L232.4 630.6L233.1 628.7L233.8 629.2L234.5 630.0L235.2 632.4L235.9 629.4L236.6 627.8L237.3 624.9L238.0 627.9L238.7 625.3L239.4 625.7L240.1 626.4L240.8 624.1L241.5 623.0L242.2 622.2L242.9 622.4L243.6 620.1L244.3 620.2L245.0 619.1L245.7 618.1L246.4 617.7L247.1 615.9L247.8 618.1L248.5 616.7L249.2 612.1L249.9 614.8L250.6 615.8L251.3 614.1L252.0 614.0L252.7 615.4L253.4 612.0L254.1 613.8L254.8 613.3L255.5 613.2L256.2 610.0L256.9 608.8L257.6 612.4L258.3 608.1L259.0 608.9L259.7 613.5L260.4 609.0L261.1 607.8L261.8 615.8L262.5 613.3L263.2 612.3L263.9 616.1L264.6 611.1L265.3 612.8L266.0 609.3L266.7 608.8L267.4 609.7L268.1 610.6L268.8 610.9L269.5 611.1L270.2 608.4L270.9 609.5L271.6 612.3L272.3 610.8L273.0 611.0L273.7 614.0L274.4 614.5L275.1 616.4L275.8 614.8L276.5 617.3L277.2 620.4L277.9 622.1L278.6 619.8L279.3 621.2L280.0 623.0L280.7 625.6L281.4 622.4L282.1 629.6L282.8 625.3L283.5 626.6L284.2 630.0L284.9 626.5L285.6 627.6L286.3 625.9L287.0 625.5L287.7 622.9L288.4 624.0L289.1 624.7L289.8 624.5L290.5 627.4L291.2 627.4L291.9 625.6L292.6 629.9L293.3 628.1L294.0 629.6L294.7 627.1L295.4 627.8L296.1 628.6L296.8 632.0L297.5 627.6L298.2 628.9L298.9 628.9L299.6 630.8L300.3 628.3L301.0 629.7L301.7 629.2L302.4 627.8L303.1 626.4L303.8 626.5L304.5 626.8L305.2 627.1L305.9 625.0L306.6 626.8L307.3 628.1L308.0 625.9L308.7 625.1L309.4 625.7L310.1 626.4L310.8 623.0L311.5 623.9L312.2 626.9L312.9 624.2L313.6 621.9L314.3 624.0L315.0 626.3L315.7 622.8L316.4 622.3L317.1 623.0L317.8 626.3L318.5 623.8L319.2 626.4L319.9 627.3L320.6 626.4L321.3 625.1L322.0 627.7L322.7 627.8L323.4 628.9L324.1 628.5L324.8 628.2L325.5 626.1L326.2 630.5L326.9 628.4L327.6 625.2L328.3 628.3L329.0 629.4L329.7 628.2L330.4 625.0L331.1 627.4L331.8 626.6L332.5 627.9L333.2 625.1L333.9 629.1L334.6 629.9L335.3 629.4L336.0 627.6L336.7 627.6L337.4 629.2L338.1 628.2L338.8 627.5L339.5 629.6L340.2 631.4L340.9 633.0L341.6 633.5L342.3 631.7L343.0 633.0L343.7 633.3L344.4 633.2L345.1 632.9L345.8 628.0L346.5 629.4L347.2 629.0L347.9 631.7L348.6 631.1L349.3 630.2L350.0 631.0L350.7 629.8L351.4 629.9L352.1 628.8L352.8 629.0L353.5 628.4L354.2 630.9L354.9 631.3L355.6 627.0L356.3 628.9L357.0 630.4L357.7 630.4L358.4 626.6L359.1 626.7L359.8 627.7L360.5 630.1L361.2 626.0L361.9 625.8L362.6 625.8L363.3 625.6L364.0 626.8L364.7 626.2L365.4 627.2L366.1 629.6L366.8 630.0L367.5 631.9L368.2 633.2L368.9 630.0L369.6 632.9L370.3 632.7L371.0 632.1L371.7 632.4L372.4 632.7L373.1 629.8L373.8 631.7L374.5 631.7L375.2 629.5L375.9 630.4L376.6 629.4L377.3 629.6L378.0 632.2L378.7 627.2L379.4 629.5L380.1 626.5L380.8 628.5L381.5 627.4L382.2 629.2L382.9 631.7L383.6 632.1L384.3 631.0L385.0 630.6L385.7 629.1L386.4 629.7L387.1 630.5L387.8 625.6L388.5 627.1L389.2 625.0L389.9 627.0L390.6 623.0L391.3 626.0L392.0 623.1L392.7 623.2L393.4 627.8L394.1 627.7L394.8 624.4L395.5 623.4L396.2 624.5L396.9 626.5L397.6 625.5L398.3 623.1L399.0 625.2L399.7 627.6L400.4 624.1L401.1 626.4L401.8 625.8L402.5 629.5L403.2 627.8L403.9 627.1L404.6 626.1L405.3 629.4L406.0 628.9L406.7 629.8L407.4 629.0L408.1 631.2L408.8 627.4L409.5 628.1L410.2 629.9L410.9 631.4L411.6 629.3L412.3 628.2L413.0 626.9L413.7 626.5L414.4 628.1L415.1 627.5L415.8 629.6L416.5 629.1L417.2 632.0L417.9 628.6L418.6 631.1L419.3 628.6L420.0 631.3L420.7 632.6L421.4 627.8L422.1 627.2L422.8 630.9L423.5 629.2L424.2 629.4L424.9 630.0L425.6 631.3L426.3 632.4L427.0 630.5L427.7 629.4L428.4 627.8L429.1 626.6L429.8 627.7L430.5 630.7L431.2 626.9L431.9 629.4L432.6 631.4L433.3 630.9L434.0 633.0L434.7 632.0L435.4 633.0L436.1 628.8L436.8 629.1L437.5 633.0L438.2 630.5L438.9 629.9L439.6 627.9L440.3 630.6L441.0 629.0L441.7 628.9L442.4 627.0L443.1 628.5L443.8 627.9L444.5 628.9L445.2 629.6L445.9 628.0L446.6 626.8L447.3 629.4L448.0 626.6L448.7 630.4L449.4 629.7L450.1 625.8L450.8 630.8L451.5 627.2L452.2 631.1L452.9 627.8L453.6 629.4L454.3 627.2L455.0 629.9L455.7 629.0L456.4 631.6L457.1 630.5L457.8 628.2L458.5 630.3L459.2 628.4L459.9 629.6L460.6 631.9L461.3 631.5L462.0 630.2L462.7 628.5L463.4 629.9L464.1 632.5L464.8 628.9L465.5 627.9L466.2 628.3L466.9 628.1L467.6 632.3L468.3 630.5L469.0 631.2L469.7 633.6L470.4 634.1L471.1 632.4L471.8 632.0L472.5 633.3L473.2 634.2L473.9 629.6L474.6 629.4L475.3 635.5L476.0 633.3L476.7 633.1L477.4 630.2L478.1 629.7L478.8 631.4L479.5 633.5L480.2 631.5L480.9 628.6L481.6 632.6L482.3 632.3L483.0 632.0L483.7 628.7L484.4 629.8L485.1 630.4L485.8 630.9L486.5 633.8L487.2 629.2L487.9 630.4L488.6 631.5L489.3 631.4L490.0 630.8L490.7 628.3L491.4 630.0L492.1 629.3L492.8 629.9L493.5 631.8L494.2 628.6L494.9 629.4L495.6 629.9L496.3 630.1L497.0 632.0L497.7 629.6L498.4 630.1L499.1 632.5L499.8 632.1L500.5 633.1L501.2 629.3L501.9 630.3L502.6 629.8L503.3 629.6L504.0 628.6L504.7 631.3L505.4 628.3L506.1 628.3L506.8 629.8L507.5 630.0L508.2 629.4L508.9 632.9L509.6 631.1L510.3 629.6L511.0 629.8L511.7 632.8L512.4 629.6L513.1 631.3L513.8 629.2L514.5 633.1L515.2 631.0L515.9 627.2L516.6 630.1L517.3 627.2L518.0 627.7L518.7 629.9L519.4 626.2L520.1 628.5L520.8 626.6L521.5 628.4L522.2 625.5L522.9 628.1L523.6 626.6L524.3 628.2L525.0 625.8L525.7 627.5L526.4 627.9L527.1 627.4L527.8 625.2L528.5 626.7L529.2 627.1L529.9 627.8L530.6 629.1L531.3 624.9L532.0 624.6L532.7 627.0L533.4 624.9L534.1 626.6L534.8 626.0L535.5 626.4L536.2 625.1L536.9 623.7L537.6 623.5L538.3 624.2L539.0 625.9L539.7 625.1L540.4 628.9L541.1 628.2L541.8 625.6L542.5 623.8L543.2 629.7L543.9 624.9L544.6 621.9L545.3 623.2L546.0 626.8L546.7 628.9L547.4 627.8L548.1 628.8L548.8 629.3L549.5 629.5L550.2 624.9L550.9 624.8L551.6 622.8L552.3 624.4L553.0 623.7L553.7 624.9L554.4 627.5L555.1 623.4L555.8 626.7L556.5 624.5L557.2 623.9L557.9 626.8L558.6 625.9L559.3 626.1L560.0 628.6L560.7 623.5L561.4 625.7L562.1 627.5L562.8 623.6L563.5 625.2L564.2 626.6L564.9 626.4L565.6 625.6L566.3 625.8L567.0 624.5L567.7 625.9L568.4 625.5L569.1 622.8L569.8 625.1L570.5 625.4L571.2 628.5L571.9 628.2L572.6 627.8L573.3 627.3L574.0 628.4L574.7 626.4L575.4 628.2L576.1 626.4L576.8 627.4L577.5 626.9L578.2 632.4L578.9 630.6L579.6 628.5L580.3 629.9L581.0 632.4L581.7 631.2L582.4 633.1L583.1 632.3L583.8 633.5L584.5 627.0L585.2 632.7L585.9 631.6L586.6 632.6L587.3 631.1L588.0 631.0L588.7 630.4L589.4 633.0L590.1 631.7L590.8 628.3L591.5 630.8L592.2 631.3L592.9 629.6L593.6 631.5L594.3 632.3L595.0 631.9L595.7 630.1L596.4 633.8L597.1 632.1L597.8 633.0L598.5 631.4L599.2 633.1L599.9 632.6L600.6 633.6L601.3 635.4L602.0 636.7L602.7 634.4L603.4 634.3L604.1 636.7L604.8 632.8L605.5 635.0L606.2 634.7L606.9 636.6L607.6 635.5L608.3 635.5L609.0 638.2L609.7 636.4L610.4 637.1L611.1 638.3L611.8 637.4L612.5 634.8L613.2 638.4L613.9 635.9L614.6 637.0L615.3 636.9L616.0 635.3L616.7 635.0L617.4 633.2L618.1 636.4L618.8 636.9L619.5 635.7L620.2 634.9L620.9 633.2L621.6 632.7L622.3 633.8L623.0 636.6L623.7 634.2L624.4 634.9L625.1 634.9L625.8 634.5L626.5 633.5L627.2 633.9L627.9 632.9L628.6 635.5L629.3 634.8L630.0 632.9L630.7 633.4L631.4 633.1L632.1 636.4L632.8 636.5L633.5 634.5L634.2 635.5L634.9 635.6L635.6 631.5L636.3 634.9L637.0 636.6L637.7 636.8L638.4 635.2L639.1 635.8L639.8 638.0L640.5 637.9L641.2 638.4L641.9 636.8L642.6 637.1L643.3 635.7L644.0 637.3L644.7 634.1L645.4 636.9L646.1 634.8L646.8 633.8L647.5 632.5L648.2 633.4L648.9 631.7L649.6 629.0L650.3 633.6L651.0 631.3L651.7 633.9L652.4 631.2L653.1 632.7L653.8 633.6L654.5 631.6L655.2 634.6L655.9 633.8L656.6 631.1L657.3 637.3L658.0 635.0L658.7 634.3L659.4 634.0L660.1 635.4L660.8 633.9L661.5 635.3L662.2 635.7L662.9 634.0L663.6 635.0L664.3 634.5L665.0 631.8L665.7 634.2L666.4 634.6L667.1 637.2L667.8 635.4L668.5 633.7L669.2 635.9L669.9 635.3L670.6 633.0L671.3 636.8" stroke-width="3.0" stroke-dasharray="6 3.6"/>
<path d="M59.5 627.3L60.2 625.8L60.9 625.0L61.6 622.0L62.3 623.8L63.0 622.8L63.7 622.5L64.4 620.9L65.1 621.0L65.8 621.1L66.5 619.6L67.2 623.6L67.9 623.7L68.6 625.8L69.3 623.7L70.0 623.2L70.7 622.6L71.4 621.3L72.1 626.2L72.8 623.4L73.5 622.6L74.2 625.6L74.9 628.8L75.6 627.6L76.3 625.8L77.0 625.8L77.7 628.0L78.4 627.6L79.1 625.4L79.8 625.4L80.5 626.1L81.2 627.2L81.9 621.5L82.6 621.2L83.3 618.8L84.0 616.8L84.7 620.0L85.4 620.7L86.1 625.7L86.8 624.4L87.5 623.3L88.2 629.1L88.9 627.9L89.6 626.2L90.3 627.6L91.0 627.1L91.7 626.6L92.4 628.1L93.1 623.6L93.8 626.5L94.5 626.6L95.2 626.1L95.9 626.8L96.6 627.1L97.3 627.8L98.0 624.0L98.7 626.3L99.4 623.5L100.1 624.7L100.8 622.2L101.5 624.6L102.2 624.2L102.9 622.2L103.6 625.6L104.3 620.5L105.0 621.5L105.7 620.6L106.4 619.2L107.1 621.4L107.8 623.4L108.5 618.6L109.2 621.5L109.9 621.0L110.6 624.8L111.3 622.5L112.0 623.0L112.7 624.0L113.4 623.5L114.1 623.2L114.8 629.6L115.5 626.5L116.2 631.2L116.9 634.3L117.6 633.0L118.3 636.8L119.0 639.4L119.7 639.1L120.4 640.1L121.1 638.6L121.8 642.5L122.5 645.1L123.2 646.7L123.9 648.6L124.6 651.9L125.3 649.8L126.0 649.1L126.7 650.2L127.4 647.2L128.1 646.3L128.8 648.7L129.5 646.1L130.2 641.2L130.9 642.0L131.6 641.4L132.3 640.7L133.0 638.3L133.7 635.5L134.4 634.0L135.1 635.1L135.8 633.4L136.5 631.7L137.2 631.0L137.9 629.6L138.6 631.8L139.3 627.9L140.0 629.0L140.7 629.7L141.4 627.8L142.1 625.8L142.8 628.5L143.5 625.2L144.2 626.4L144.9 624.2L145.6 622.1L146.3 623.7L147.0 622.9L147.7 621.3L148.4 620.4L149.1 620.0L149.8 620.0L150.5 620.8L151.2 625.3L151.9 623.9L152.6 622.5L153.3 624.4L154.0 622.0L154.7 622.1L155.4 624.0L156.1 622.1L156.8 620.4L157.5 622.1L158.2 623.9L158.9 623.7L159.6 626.0L160.3 622.2L161.0 624.8L161.7 624.0L162.4 623.9L163.1 625.4L163.8 625.7L164.5 623.3L165.2 626.8L165.9 623.7L166.6 625.8L167.3 626.1L168.0 627.1L168.7 625.3L169.4 625.9L170.1 626.1L170.8 628.6L171.5 625.2L172.2 625.7L172.9 623.7L173.6 621.8L174.3 627.8L175.0 623.3L175.7 618.9L176.4 623.5L177.1 620.3L177.8 622.8L178.5 622.8L179.2 621.3L179.9 620.4L180.6 621.0L181.3 620.9L182.0 617.7L182.7 617.8L183.4 619.7L184.1 621.3L184.8 621.0L185.5 622.1L186.2 620.4L186.9 617.8L187.6 618.2L188.3 613.5L189.0 614.5L189.7 612.9L190.4 615.4L191.1 615.7L191.8 614.1L192.5 613.9L193.2 614.5L193.9 617.2L194.6 619.0L195.3 618.2L196.0 616.1L196.7 621.4L197.4 621.7L198.1 619.3L198.8 618.9L199.5 618.7L200.2 620.8L200.9 621.1L201.6 622.4L202.3 622.3L203.0 624.5L203.7 625.5L204.4 625.7L205.1 625.6L205.8 623.9L206.5 622.1L207.2 625.1L207.9 619.8L208.6 622.1L209.3 617.0L210.0 618.9L210.7 619.2L211.4 616.8L212.1 617.6L212.8 616.1L213.5 616.7L214.2 617.5L214.9 615.7L215.6 619.6L216.3 616.8L217.0 619.1L217.7 613.7L218.4 618.2L219.1 618.8L219.8 617.4L220.5 618.5L221.2 618.3L221.9 616.5L222.6 617.2L223.3 621.1L224.0 617.8L224.7 617.4L225.4 616.7L226.1 616.7L226.8 615.3L227.5 616.8L228.2 619.8L228.9 618.1L229.6 617.4L230.3 618.0L231.0 619.3L231.7 616.7L232.4 619.1L233.1 616.9L233.8 614.1L234.5 616.1L235.2 608.8L235.9 609.7L236.6 610.2L237.3 607.1L238.0 607.0L238.7 604.9L239.4 603.2L240.1 607.0L240.8 603.4L241.5 600.4L242.2 601.8L242.9 598.4L243.6 599.0L244.3 597.4L245.0 598.5L245.7 592.9L246.4 595.1L247.1 592.6L247.8 589.7L248.5 592.3L249.2 589.2L249.9 592.1L250.6 589.2L251.3 588.2L252.0 588.3L252.7 589.3L253.4 584.1L254.1 586.4L254.8 584.3L255.5 586.2L256.2 586.2L256.9 586.9L257.6 584.5L258.3 588.9L259.0 590.0L259.7 587.0L260.4 587.6L261.1 588.4L261.8 589.1L262.5 590.7L263.2 586.0L263.9 587.3L264.6 586.5L265.3 585.6L266.0 584.5L266.7 588.8L267.4 587.2L268.1 591.5L268.8 589.4L269.5 586.2L270.2 586.7L270.9 587.9L271.6 590.7L272.3 586.3L273.0 586.6L273.7 590.8L274.4 593.2L275.1 592.0L275.8 596.8L276.5 596.0L277.2 598.0L277.9 596.9L278.6 599.0L279.3 599.7L280.0 597.7L280.7 602.5L281.4 599.0L282.1 601.8L282.8 599.5L283.5 605.5L284.2 603.3L284.9 604.4L285.6 605.4L286.3 603.1L287.0 602.2L287.7 605.7L288.4 608.3L289.1 607.0L289.8 608.6L290.5 608.6L291.2 605.0L291.9 608.4L292.6 611.4L293.3 608.5L294.0 606.4L294.7 609.3L295.4 609.2L296.1 610.8L296.8 608.6L297.5 610.5L298.2 607.0L298.9 612.8L299.6 614.7L300.3 614.4L301.0 610.4L301.7 614.4L302.4 609.7L303.1 614.6L303.8 613.8L304.5 612.1L305.2 613.6L305.9 612.9L306.6 614.1L307.3 611.9L308.0 612.9L308.7 609.5L309.4 611.0L310.1 612.7L310.8 613.3L311.5 612.3L312.2 614.0L312.9 609.3L313.6 610.8L314.3 611.8L315.0 610.9L315.7 612.2L316.4 610.5L317.1 614.9L317.8 612.7L318.5 615.3L319.2 612.1L319.9 613.7L320.6 609.4L321.3 612.4L322.0 610.9L322.7 611.5L323.4 612.7L324.1 609.7L324.8 610.1L325.5 611.1L326.2 613.5L326.9 610.5L327.6 613.4L328.3 611.1L329.0 611.8L329.7 613.4L330.4 615.3L331.1 612.7L331.8 612.0L332.5 612.9L333.2 612.1L333.9 607.9L334.6 611.6L335.3 611.8L336.0 614.8L336.7 616.0L337.4 614.8L338.1 614.3L338.8 612.6L339.5 613.7L340.2 614.5L340.9 615.0L341.6 612.3L342.3 614.4L343.0 616.0L343.7 618.4L344.4 616.3L345.1 615.8L345.8 615.2L346.5 615.6L347.2 613.8L347.9 616.8L348.6 616.6L349.3 616.9L350.0 618.3L350.7 616.2L351.4 616.7L352.1 616.3L352.8 615.0L353.5 616.4L354.2 613.5L354.9 609.6L355.6 612.3L356.3 611.7L357.0 610.6L357.7 612.6L358.4 615.9L359.1 617.4L359.8 614.0L360.5 615.9L361.2 615.6L361.9 612.0L362.6 613.8L363.3 612.7L364.0 610.2L364.7 607.6L365.4 604.3L366.1 600.7L366.8 595.8L367.5 590.8L368.2 585.8L368.9 582.4L369.6 578.6L370.3 575.5L371.0 573.4L371.7 571.2L372.4 573.9L373.1 576.4L373.8 579.1L374.5 581.3L375.2 583.6L375.9 586.2L376.6 589.2L377.3 592.6L378.0 596.4L378.7 599.6L379.4 602.4L380.1 605.0L380.8 607.5L381.5 608.9L382.2 612.1L382.9 609.5L383.6 612.4L384.3 612.6L385.0 614.0L385.7 618.0L386.4 617.3L387.1 615.3L387.8 616.0L388.5 614.1L389.2 613.6L389.9 613.9L390.6 612.8L391.3 614.4L392.0 614.5L392.7 614.4L393.4 613.2L394.1 611.4L394.8 613.4L395.5 613.2L396.2 616.1L396.9 615.8L397.6 616.0L398.3 615.3L399.0 613.0L399.7 617.0L400.4 616.8L401.1 612.6L401.8 615.5L402.5 617.2L403.2 614.2L403.9 618.7L404.6 615.9L405.3 613.7L406.0 617.3L406.7 614.6L407.4 612.4L408.1 615.0L408.8 610.7L409.5 615.9L410.2 613.3L410.9 614.7L411.6 613.6L412.3 615.4L413.0 615.1L413.7 612.9L414.4 615.6L415.1 614.3L415.8 614.2L416.5 615.4L417.2 614.2L417.9 615.5L418.6 617.6L419.3 616.2L420.0 618.3L420.7 616.8L421.4 614.2L422.1 613.2L422.8 615.5L423.5 616.9L424.2 616.2L424.9 613.7L425.6 616.4L426.3 612.1L427.0 612.3L427.7 614.0L428.4 617.1L429.1 614.2L429.8 612.0L430.5 614.6L431.2 614.7L431.9 615.6L432.6 613.8L433.3 612.6L434.0 614.2L434.7 614.9L435.4 616.7L436.1 616.6L436.8 612.1L437.5 612.7L438.2 613.9L438.9 613.7L439.6 615.0L440.3 614.6L441.0 615.0L441.7 616.0L442.4 613.8L443.1 613.2L443.8 613.7L444.5 614.3L445.2 615.4L445.9 615.4L446.6 620.6L447.3 619.4L448.0 618.4L448.7 616.9L449.4 616.5L450.1 618.2L450.8 622.3L451.5 616.2L452.2 621.3L452.9 621.7L453.6 620.6L454.3 620.7L455.0 621.8L455.7 619.2L456.4 621.4L457.1 621.9L457.8 618.3L458.5 619.2L459.2 620.4L459.9 621.5L460.6 622.3L461.3 621.6L462.0 619.4L462.7 618.9L463.4 620.5L464.1 621.8L464.8 618.8L465.5 620.6L466.2 621.4L466.9 623.5L467.6 619.7L468.3 621.9L469.0 618.8L469.7 620.5L470.4 621.6L471.1 623.4L471.8 625.9L472.5 621.8L473.2 623.5L473.9 623.9L474.6 621.2L475.3 624.0L476.0 621.3L476.7 626.9L477.4 626.4L478.1 624.5L478.8 623.1L479.5 625.8L480.2 622.4L480.9 621.7L481.6 621.3L482.3 616.7L483.0 619.9L483.7 620.5L484.4 619.2L485.1 619.9L485.8 618.6L486.5 620.5L487.2 619.5L487.9 618.5L488.6 617.9L489.3 619.8L490.0 620.7L490.7 618.8L491.4 621.0L492.1 622.8L492.8 623.6L493.5 621.0L494.2 619.9L494.9 618.8L495.6 620.4L496.3 620.9L497.0 620.8L497.7 619.7L498.4 621.3L499.1 618.7L499.8 623.1L500.5 620.8L501.2 621.9L501.9 620.5L502.6 621.1L503.3 620.5L504.0 625.0L504.7 623.3L505.4 622.3L506.1 620.9L506.8 621.6L507.5 623.5L508.2 624.8L508.9 620.3L509.6 621.5L510.3 622.9L511.0 622.4L511.7 621.6L512.4 624.1L513.1 625.8L513.8 622.1L514.5 624.8L515.2 625.1L515.9 624.6L516.6 622.7L517.3 626.8L518.0 623.9L518.7 621.8L519.4 624.7L520.1 622.3L520.8 626.2L521.5 621.1L522.2 623.7L522.9 622.5L523.6 625.2L524.3 624.3L525.0 622.9L525.7 621.7L526.4 623.8L527.1 619.6L527.8 622.3L528.5 621.9L529.2 622.3L529.9 623.1L530.6 627.2L531.3 620.8L532.0 621.3L532.7 620.6L533.4 621.7L534.1 616.1L534.8 622.3L535.5 618.8L536.2 617.1L536.9 620.1L537.6 621.6L538.3 622.4L539.0 621.4L539.7 622.2L540.4 621.0L541.1 621.1L541.8 617.8L542.5 622.4L543.2 622.5L543.9 621.0L544.6 619.1L545.3 620.0L546.0 624.7L546.7 621.3L547.4 620.7L548.1 620.8L548.8 622.9L549.5 620.7L550.2 619.9L550.9 618.1L551.6 619.3L552.3 621.0L553.0 619.4L553.7 620.9L554.4 620.4L555.1 620.6L555.8 620.6L556.5 620.2L557.2 621.3L557.9 620.0L558.6 618.8L559.3 618.8L560.0 618.6L560.7 619.9L561.4 620.1L562.1 620.8L562.8 618.0L563.5 620.1L564.2 622.7L564.9 617.8L565.6 622.8L566.3 620.7L567.0 619.6L567.7 616.9L568.4 621.2L569.1 618.4L569.8 619.9L570.5 621.8L571.2 619.0L571.9 619.2L572.6 619.5L573.3 622.6L574.0 623.2L574.7 623.3L575.4 623.6L576.1 622.1L576.8 623.3L577.5 622.1L578.2 625.9L578.9 624.3L579.6 621.5L580.3 623.1L581.0 627.0L581.7 623.2L582.4 623.9L583.1 625.0L583.8 623.7L584.5 626.0L585.2 627.1L585.9 623.2L586.6 625.9L587.3 623.5L588.0 622.8L588.7 623.5L589.4 624.0L590.1 622.8L590.8 625.5L591.5 622.1L592.2 623.3L592.9 624.1L593.6 627.0L594.3 626.7L595.0 627.4L595.7 624.1L596.4 627.0L597.1 627.6L597.8 624.1L598.5 625.1L599.2 627.8L599.9 626.9L600.6 626.7L601.3 626.5L602.0 625.9L602.7 626.9L603.4 627.2L604.1 625.8L604.8 627.2L605.5 627.8L606.2 632.5L606.9 629.3L607.6 629.2L608.3 629.6L609.0 630.8L609.7 629.8L610.4 629.7L611.1 629.5L611.8 631.3L612.5 628.8L613.2 629.6L613.9 630.1L614.6 627.2L615.3 629.8L616.0 628.8L616.7 627.0L617.4 626.8L618.1 624.6L618.8 627.9L619.5 624.3L620.2 623.7L620.9 625.7L621.6 622.5L622.3 627.5L623.0 626.4L623.7 626.8L624.4 625.4L625.1 624.5L625.8 623.7L626.5 628.7L627.2 624.9L627.9 623.7L628.6 628.0L629.3 624.7L630.0 624.9L630.7 624.6L631.4 625.4L632.1 624.3L632.8 625.5L633.5 627.5L634.2 626.8L634.9 621.4L635.6 622.7L636.3 625.9L637.0 625.3L637.7 625.0L638.4 626.9L639.1 622.7L639.8 626.5L640.5 625.4L641.2 625.8L641.9 625.2L642.6 626.0L643.3 624.6L644.0 624.5L644.7 626.7L645.4 626.1L646.1 623.4L646.8 628.1L647.5 627.7L648.2 627.1L648.9 625.0L649.6 625.1L650.3 623.6L651.0 622.9L651.7 624.5L652.4 625.1L653.1 624.2L653.8 627.9L654.5 622.6L655.2 624.0L655.9 624.2L656.6 627.5L657.3 625.6L658.0 625.4L658.7 624.3L659.4 624.4L660.1 623.4L660.8 626.1L661.5 624.6L662.2 625.3L662.9 622.8L663.6 628.0L664.3 622.8L665.0 621.5L665.7 625.7L666.4 627.7L667.1 628.5L667.8 625.4L668.5 628.1L669.2 630.0L669.9 626.6L670.6 626.4L671.3 624.4" stroke-width="2.9"/>
<path d="M59.5 370.9L60.0 370.7L60.5 370.8L61.0 370.6L61.5 370.5L62.0 370.6L62.5 370.5L63.0 370.9L63.5 370.8L64.0 371.0L64.5 371.1L65.0 371.0L65.5 371.2L66.0 370.9L66.5 371.1L67.0 370.9L67.5 370.7L68.0 370.9L68.5 370.9L69.0 370.9L69.5 370.9L70.0 371.0L70.5 371.0L71.0 370.6L71.5 370.4L72.0 370.2L72.5 369.9L73.0 369.8L73.5 369.9L74.0 370.1L74.5 370.3L75.0 370.4L75.5 370.6L76.0 370.7L76.5 370.7L77.0 370.6L77.5 370.6L78.0 370.5L78.5 370.5L79.0 370.5L79.5 370.7L80.0 370.8L80.5 370.8L81.0 370.8L81.5 370.9L82.0 371.1L82.5 370.6L83.0 370.7L83.5 370.7L84.0 370.9L84.5 370.8L85.0 370.7L85.5 371.2L86.0 371.1L86.5 371.1L87.0 370.9L87.5 371.1L88.0 370.8L88.5 370.8L89.0 370.9L89.5 370.8L90.0 371.0L90.5 371.0L91.0 371.1L91.5 370.8L92.0 370.9L92.5 370.8L93.0 370.6L93.5 370.5L94.0 370.6L94.5 370.9L95.0 370.6L95.5 370.9L96.0 371.1L96.5 371.1L97.0 371.0L97.5 370.8L98.0 370.9L98.5 370.6L99.0 370.3L99.5 370.3L100.0 370.4L100.5 370.6L101.0 370.6L101.5 370.5L102.0 370.7L102.5 370.7L103.0 370.7L103.5 370.5L104.0 370.4L104.5 370.6L105.0 370.6L105.5 370.7L106.0 370.6L106.5 370.7L107.0 370.7L107.5 370.7L108.0 370.6L108.5 370.5L109.0 370.5L109.5 370.4L110.0 370.5L110.5 370.5L111.0 370.5L111.5 370.5L112.0 370.5L112.5 370.8L113.0 370.8L113.5 370.9L114.0 370.9L114.5 371.2L115.0 371.4L115.5 371.1L116.0 371.1L116.5 370.8L117.0 371.0L117.5 370.7L118.0 370.5L118.5 370.6L119.0 370.8L119.5 370.9L120.0 370.8L120.5 370.9L121.0 371.0L121.5 370.8L122.0 370.5L122.5 370.5L123.0 370.5L123.5 370.4L124.0 370.2L124.5 370.3L125.0 370.6L125.5 370.6L126.0 370.5L126.5 370.8L127.0 370.7L127.5 370.5L128.0 370.4L128.5 370.4L129.0 370.3L129.5 369.8L130.0 369.9L130.5 370.0L131.0 369.9L131.5 369.9L132.0 370.0L132.5 370.4L133.0 370.3L133.5 370.1L134.0 370.2L134.5 370.1L135.0 370.0L135.5 370.0L136.0 370.2L136.5 370.5L137.0 370.6L137.5 370.6L138.0 370.7L138.5 370.9L139.0 370.7L139.5 370.6L140.0 370.4L140.5 370.4L141.0 370.4L141.5 370.5L142.0 370.6L142.5 370.5L143.0 370.7L143.5 370.7L144.0 370.6L144.5 370.5L145.0 370.7L145.5 370.7L146.0 370.6L146.5 370.8L147.0 370.7L147.5 370.6L148.0 370.4L148.5 370.3L149.0 370.4L149.5 370.5L150.0 370.5L150.5 370.5L151.0 370.6L151.5 370.8L152.0 370.9L152.5 370.7L153.0 370.7L153.5 370.8L154.0 370.6L154.5 370.5L155.0 370.3L155.5 370.3L156.0 370.3L156.5 370.2L157.0 370.5L157.5 370.5L158.0 370.4L158.5 370.5L159.0 370.5L159.5 370.6L160.0 370.5L160.5 370.8L161.0 370.8L161.5 370.6L162.0 370.8L162.5 370.9L163.0 370.9L163.5 370.9L164.0 371.2L164.5 371.4L165.0 371.3L165.5 370.9L166.0 370.8L166.5 370.6L167.0 370.5L167.5 370.4L168.0 370.3L168.5 370.5L169.0 370.5L169.5 370.6L170.0 370.5L170.5 370.6L171.0 370.7L171.5 370.6L172.0 370.8L172.5 370.6L173.0 370.7L173.5 370.4L174.0 370.4L174.5 370.6L175.0 370.7L175.5 370.9L176.0 371.1L176.5 371.3L177.0 371.4L177.5 371.3L178.0 371.1L178.5 371.1L179.0 370.7L179.5 370.4L180.0 370.3L180.5 370.4L181.0 370.4L181.5 370.5L182.0 370.6L182.5 370.9L183.0 370.7L183.5 370.8L184.0 370.8L184.5 370.7L185.0 370.6L185.5 370.6L186.0 370.5L186.5 370.3L187.0 370.3L187.5 370.4L188.0 370.3L188.5 370.5L189.0 370.6L189.5 370.6L190.0 370.7L190.5 370.6L191.0 370.7L191.5 370.7L192.0 370.8L192.5 370.7L193.0 370.7L193.5 370.8L194.0 370.8L194.5 370.5L195.0 370.5L195.5 370.8L196.0 371.0L196.5 370.9L197.0 370.9L197.5 371.2L198.0 371.2L198.5 370.9L199.0 371.0L199.5 370.9L200.0 371.0L200.5 370.8L201.0 370.7L201.5 370.7L202.0 370.5L202.5 370.5L203.0 370.4L203.5 370.4L204.0 370.5L204.5 370.7L205.0 370.6L205.5 370.8L206.0 370.8L206.5 370.8L207.0 370.9L207.5 370.9L208.0 370.7L208.5 370.7L209.0 370.9L209.5 370.9L210.0 371.0L210.5 370.9L211.0 371.3L211.5 371.2L212.0 371.2L212.5 371.3L213.0 371.2L213.5 371.2L214.0 371.1L214.5 371.0L215.0 370.9L215.5 370.8L216.0 370.7L216.5 370.8L217.0 370.9L217.5 371.0L218.0 370.8L218.5 370.8L219.0 370.8L219.5 370.6L220.0 370.8L220.5 371.0L221.0 371.1L221.5 371.2L222.0 371.2L222.5 371.2L223.0 371.1L223.5 370.8L224.0 370.7L224.5 370.7L225.0 370.7L225.5 370.8L226.0 370.8L226.5 370.9L227.0 371.1L227.5 371.1L228.0 371.1L228.5 371.1L229.0 371.1L229.5 371.0L230.0 371.0L230.5 370.9L231.0 371.2L231.5 371.2L232.0 371.2L232.5 371.2L233.0 371.2L233.5 371.1L234.0 370.8L234.5 370.9L235.0 371.0L235.5 371.0L236.0 370.8L236.5 371.0L237.0 371.1L237.5 370.9L238.0 370.8L238.5 370.7L239.0 370.9L239.5 370.8L240.0 370.7L240.5 370.7L241.0 370.8L241.5 370.9L242.0 370.7L242.5 370.6L243.0 370.7L243.5 370.8L244.0 370.6L244.5 370.5L245.0 370.6L245.5 370.6L246.0 370.6L246.5 370.4L247.0 370.3L247.5 370.3L248.0 370.3L248.5 370.4L249.0 370.4L249.5 370.7L250.0 370.7L250.5 370.8L251.0 370.7L251.5 370.7L252.0 370.8L252.5 370.8L253.0 370.8L253.5 370.7L254.0 370.7L254.5 370.8L255.0 370.7L255.5 370.6L256.0 370.8L256.5 370.9L257.0 371.0L257.5 371.0L258.0 370.9L258.5 371.0L259.0 371.0L259.5 371.0L260.0 370.9L260.5 370.9L261.0 370.7L261.5 370.9L262.0 371.0L262.5 371.0L263.0 371.1L263.5 371.3L264.0 371.5L264.5 371.3L265.0 371.2L265.5 370.9L266.0 371.0L266.5 370.8L267.0 370.7L267.5 370.5L268.0 370.4L268.5 370.4L269.0 370.4L269.5 370.6L270.0 370.6L270.5 370.7L271.0 370.7L271.5 370.7L272.0 370.7L272.5 370.4L273.0 370.5L273.5 370.6L274.0 370.8L274.5 370.8L275.0 370.9L275.5 371.0L276.0 371.0L276.5 370.9L277.0 370.9L277.5 371.1L278.0 370.8L278.5 370.8L279.0 370.6L279.5 370.6L280.0 370.7L280.5 370.6L281.0 370.9L281.5 370.9L282.0 370.9L282.5 371.0L283.0 370.9L283.5 371.0L284.0 370.8L284.5 370.8L285.0 371.0L285.5 370.8L286.0 370.8L286.5 370.7L287.0 370.7L287.5 370.7L288.0 370.7L288.5 370.6L289.0 370.4L289.5 370.5L290.0 370.5L290.5 370.5L291.0 370.4L291.5 370.7L292.0 370.8L292.5 370.6L293.0 370.6L293.5 370.7L294.0 370.6L294.5 370.6L295.0 370.8L295.5 371.0L296.0 370.9L296.5 370.8L297.0 370.9L297.5 370.8L298.0 370.8L298.5 370.8L299.0 370.8L299.5 370.9L300.0 370.9L300.5 370.9L301.0 370.7L301.5 370.8L302.0 370.6L302.5 370.7L303.0 370.6L303.5 370.6L304.0 370.8L304.5 370.9L305.0 370.9L305.5 371.0L306.0 371.1L306.5 371.5L307.0 371.7L307.5 371.5L308.0 371.5L308.5 371.2L309.0 370.9L309.5 370.8L310.0 370.7L310.5 370.6L311.0 370.7L311.5 370.8L312.0 371.1L312.5 371.0L313.0 370.8L313.5 371.0L314.0 371.0L314.5 371.0L315.0 370.9L315.5 370.7L316.0 370.8L316.5 370.8L317.0 370.8L317.5 370.7L318.0 370.6L318.5 371.0L319.0 370.9L319.5 370.9L320.0 370.7L320.5 370.8L321.0 370.9L321.5 370.8L322.0 370.9L322.5 371.1L323.0 371.2L323.5 371.2L324.0 371.0L324.5 371.1L325.0 371.0L325.5 371.0L326.0 370.9L326.5 370.8L327.0 370.9L327.5 370.9L328.0 370.9L328.5 370.9L329.0 371.1L329.5 370.9L330.0 370.9L330.5 371.0L331.0 370.9L331.5 370.9L332.0 370.8L332.5 370.8L333.0 370.9L333.5 370.7L334.0 370.4L334.5 370.2L335.0 370.1L335.5 370.3L336.0 370.3L336.5 370.5L337.0 370.8L337.5 370.7L338.0 370.9L338.5 370.9L339.0 370.8L339.5 370.6L340.0 370.6L340.5 370.7L341.0 370.6L341.5 370.6L342.0 370.5L342.5 370.5L343.0 370.6L343.5 370.5L344.0 370.7L344.5 370.8L345.0 370.9L345.5 371.0L346.0 371.1L346.5 371.2L347.0 371.0L347.5 371.1L348.0 371.1L348.5 371.1L349.0 370.9L349.5 370.7L350.0 370.9L350.5 370.7L351.0 370.8L351.5 371.0L352.0 371.0L352.5 371.0L353.0 370.9L353.5 370.7L354.0 370.5L354.5 370.2L355.0 370.2L355.5 370.1L356.0 370.0L356.5 369.9L357.0 369.6L357.5 369.2L358.0 368.4L358.5 367.6L359.0 366.6L359.5 365.1L360.0 363.5L360.5 361.3L361.0 358.8L361.5 355.4L362.0 351.3L362.5 346.6L363.0 341.4L363.5 335.7L364.0 329.5L364.5 323.0L365.0 316.7L365.5 310.7L366.0 304.9L366.5 300.3L367.0 297.3L367.5 296.0L368.0 296.3L368.5 297.7L369.0 300.2L369.5 303.2L370.0 306.7L370.5 310.5L371.0 314.2L371.5 318.5L372.0 322.4L372.5 326.2L373.0 329.6L373.5 332.8L374.0 336.1L374.5 338.7L375.0 341.1L375.5 343.5L376.0 345.8L376.5 347.9L377.0 349.5L377.5 351.2L378.0 352.8L378.5 354.1L379.0 355.3L379.5 356.3L380.0 357.3L380.5 358.4L381.0 359.0L381.5 359.8L382.0 360.3L382.5 361.1L383.0 362.4L383.5 363.4L384.0 364.5L384.5 365.5L385.0 366.6L385.5 367.3L386.0 368.1L386.5 368.7L387.0 369.1L387.5 369.3L388.0 369.5L388.5 369.5L389.0 369.7L389.5 369.9L390.0 370.0L390.5 370.3L391.0 370.2L391.5 370.4L392.0 370.4L392.5 370.4L393.0 370.6L393.5 370.5L394.0 370.6L394.5 370.7L395.0 370.7L395.5 370.8L396.0 370.8L396.5 371.0L397.0 371.1L397.5 371.0L398.0 371.1L398.5 371.0L399.0 370.9L399.5 370.8L400.0 371.0L400.5 371.1L401.0 370.9L401.5 370.8L402.0 370.9L402.5 370.9L403.0 370.9L403.5 370.8L404.0 370.8L404.5 371.1L405.0 371.0L405.5 370.8L406.0 370.7L406.5 370.8L407.0 370.6L407.5 370.5L408.0 370.7L408.5 370.5L409.0 370.5L409.5 370.6L410.0 370.7L410.5 370.8L411.0 370.6L411.5 370.7L412.0 370.9L412.5 370.7L413.0 370.7L413.5 370.6L414.0 370.8L414.5 370.8L415.0 370.7L415.5 370.8L416.0 371.0L416.5 371.0L417.0 370.9L417.5 370.9L418.0 371.1L418.5 371.0L419.0 370.9L419.5 371.0L420.0 370.8L420.5 370.8L421.0 370.5L421.5 370.5L422.0 370.0L422.5 369.4L423.0 369.2L423.5 368.8L424.0 368.3L424.5 367.9L425.0 367.4L425.5 366.8L426.0 366.1L426.5 365.1L427.0 364.1L427.5 362.7L428.0 361.3L428.5 359.9L429.0 358.0L429.5 356.3L430.0 354.4L430.5 352.3L431.0 350.3L431.5 348.2L432.0 346.3L432.5 344.3L433.0 342.7L433.5 341.3L434.0 340.2L434.5 339.7L435.0 339.5L435.5 339.8L436.0 340.4L436.5 341.5L437.0 342.5L437.5 343.8L438.0 345.2L438.5 346.5L439.0 348.2L439.5 349.7L440.0 351.2L440.5 352.6L441.0 354.1L441.5 355.8L442.0 356.8L442.5 357.9L443.0 359.0L443.5 359.9L444.0 360.9L444.5 361.6L445.0 362.4L445.5 363.3L446.0 363.7L446.5 364.5L447.0 364.9L447.5 365.2L448.0 365.8L448.5 366.1L449.0 366.9L449.5 366.9L450.0 367.6L450.5 368.0L451.0 368.4L451.5 368.9L452.0 369.1L452.5 369.5L453.0 369.6L453.5 370.0L454.0 370.0L454.5 370.2L455.0 370.4L455.5 370.6L456.0 370.7L456.5 370.9L457.0 371.1L457.5 371.2L458.0 371.2L458.5 371.0L459.0 371.1L459.5 371.0L460.0 371.0L460.5 371.1L461.0 370.9L461.5 370.8L462.0 370.9L462.5 370.9L463.0 370.8L463.5 370.5L464.0 370.8L464.5 371.1L465.0 371.2L465.5 371.2L466.0 371.3L466.5 371.1L467.0 371.0L467.5 371.0L468.0 370.6L468.5 370.5L469.0 370.7L469.5 370.9L470.0 370.7L470.5 370.9L471.0 370.9L471.5 370.9L472.0 370.8L472.5 371.0L473.0 371.2L473.5 371.2L474.0 371.3L474.5 371.2L475.0 371.0L475.5 370.8L476.0 370.8L476.5 370.6L477.0 370.7L477.5 370.9L478.0 370.9L478.5 370.9L479.0 370.9L479.5 371.0L480.0 371.0L480.5 370.7L481.0 370.8L481.5 370.7L482.0 370.6L482.5 370.5L483.0 370.6L483.5 370.6L484.0 370.6L484.5 370.7L485.0 370.9L485.5 370.9L486.0 371.1L486.5 371.3L487.0 371.2L487.5 371.2L488.0 370.8L488.5 371.0L489.0 370.6L489.5 370.6L490.0 370.7L490.5 370.8L491.0 371.1L491.5 370.8L492.0 371.0L492.5 371.0L493.0 370.8L493.5 370.6L494.0 370.6L494.5 370.8L495.0 370.5L495.5 370.5L496.0 370.7L496.5 370.9L497.0 370.8L497.5 370.7L498.0 371.0L498.5 371.1L499.0 371.3L499.5 371.2L500.0 371.2L500.5 371.4L501.0 371.3L501.5 371.1L502.0 371.1L502.5 371.0L503.0 371.0L503.5 370.8L504.0 370.7L504.5 370.9L505.0 370.8L505.5 370.9L506.0 370.8L506.5 370.9L507.0 370.8L507.5 370.8L508.0 370.9L508.5 370.9L509.0 370.9L509.5 371.0L510.0 371.2L510.5 371.2L511.0 371.2L511.5 371.0L512.0 370.8L512.5 370.7L513.0 370.5L513.5 370.4L514.0 370.1L514.5 370.3L515.0 370.5L515.5 370.6L516.0 370.7L516.5 370.6L517.0 371.1L517.5 371.0L518.0 370.9L518.5 370.8L519.0 370.6L519.5 370.6L520.0 370.4L520.5 370.6L521.0 370.6L521.5 370.6L522.0 370.9L522.5 371.0L523.0 370.9L523.5 370.9L524.0 370.9L524.5 370.8L525.0 370.6L525.5 370.7L526.0 370.8L526.5 370.6L527.0 370.8L527.5 370.9L528.0 371.0L528.5 370.8L529.0 370.8L529.5 370.9L530.0 370.7L530.5 370.9L531.0 370.9L531.5 370.9L532.0 370.7L532.5 370.8L533.0 370.9L533.5 370.6L534.0 370.6L534.5 370.8L535.0 370.9L535.5 370.7L536.0 370.7L536.5 370.6L537.0 370.7L537.5 370.6L538.0 370.7L538.5 370.8L539.0 371.0L539.5 370.9L540.0 370.8L540.5 370.7L541.0 370.4L541.5 370.3L542.0 370.3L542.5 370.6L543.0 370.8L543.5 371.0L544.0 371.2L544.5 371.2L545.0 371.1L545.5 371.0L546.0 370.7L546.5 370.5L547.0 370.5L547.5 370.7L548.0 370.6L548.5 370.5L549.0 370.7L549.5 370.8L550.0 370.6L550.5 370.5L551.0 370.3L551.5 370.5L552.0 370.3L552.5 370.2L553.0 370.4L553.5 370.4L554.0 370.8L554.5 370.7L555.0 370.8L555.5 370.8L556.0 370.8L556.5 370.9L557.0 370.9L557.5 371.0L558.0 370.9L558.5 371.2L559.0 371.3L559.5 371.2L560.0 371.2L560.5 371.2L561.0 371.1L561.5 370.9L562.0 370.8L562.5 370.8L563.0 370.9L563.5 370.7L564.0 370.9L564.5 371.0L565.0 371.0L565.5 370.9L566.0 370.8L566.5 370.9L567.0 370.8L567.5 370.6L568.0 370.5L568.5 370.6L569.0 370.7L569.5 370.7L570.0 370.4L570.5 370.5L571.0 370.4L571.5 370.2L572.0 370.2L572.5 370.3L573.0 370.4L573.5 370.4L574.0 370.6L574.5 370.8L575.0 370.8L575.5 370.8L576.0 370.7L576.5 370.8L577.0 370.7L577.5 370.7L578.0 370.6L578.5 370.5L579.0 370.7L579.5 370.7L580.0 370.9L580.5 371.1L581.0 371.2L581.5 371.3L582.0 371.4L582.5 371.1L583.0 371.1L583.5 371.0L584.0 370.9L584.5 370.6L585.0 370.5L585.5 371.0L586.0 370.8L586.5 370.9L587.0 371.1L587.5 371.3L588.0 371.3L588.5 370.9L589.0 371.0L589.5 370.9L590.0 370.7L590.5 370.5L591.0 370.7L591.5 370.8L592.0 370.8L592.5 371.0L593.0 371.1L593.5 371.1L594.0 371.2L594.5 371.1L595.0 371.1L595.5 371.0L596.0 371.1L596.5 371.2L597.0 370.8L597.5 370.7L598.0 370.6L598.5 370.6L599.0 370.6L599.5 370.6L600.0 370.7L600.5 371.0L601.0 371.1L601.5 370.9L602.0 370.7L602.5 370.7L603.0 370.9L603.5 370.9L604.0 371.0L604.5 371.0L605.0 371.2L605.5 371.0L606.0 370.9L606.5 370.9L607.0 370.7L607.5 370.6L608.0 370.7L608.5 370.8L609.0 370.8L609.5 370.9L610.0 371.0L610.5 371.0L611.0 370.9L611.5 370.9L612.0 371.1L612.5 371.1L613.0 370.8L613.5 370.9L614.0 371.0L614.5 371.0L615.0 370.9L615.5 370.7L616.0 370.9L616.5 370.9L617.0 370.8L617.5 370.8L618.0 370.7L618.5 370.7L619.0 370.4L619.5 370.4L620.0 370.4L620.5 370.4L621.0 370.5L621.5 370.6L622.0 370.7L622.5 370.7L623.0 370.7L623.5 370.5L624.0 370.4L624.5 370.5L625.0 370.6L625.5 370.8L626.0 370.9L626.5 370.9L627.0 371.1L627.5 371.0L628.0 371.0L628.5 370.8L629.0 370.8L629.5 370.9L630.0 370.9L630.5 370.9L631.0 370.9L631.5 370.9L632.0 371.0L632.5 370.8L633.0 370.7L633.5 370.5L634.0 370.6L634.5 370.8L635.0 370.7L635.5 370.7L636.0 370.8L636.5 371.0L637.0 370.8L637.5 370.6L638.0 370.6L638.5 370.5L639.0 370.6L639.5 370.4L640.0 370.5L640.5 370.5L641.0 370.3L641.5 370.5L642.0 370.2L642.5 370.3L643.0 370.2L643.5 370.2L644.0 370.3L644.5 370.4L645.0 370.6L645.5 370.6L646.0 370.7L646.5 370.8L647.0 370.8L647.5 370.7L648.0 370.8L648.5 370.8L649.0 370.8L649.5 370.8L650.0 370.9L650.5 370.7L651.0 370.7L651.5 370.8L652.0 370.7L652.5 370.7L653.0 370.8L653.5 370.8L654.0 370.8L654.5 370.7L655.0 370.8L655.5 370.9L656.0 370.9L656.5 371.0L657.0 371.0L657.5 371.1L658.0 371.2L658.5 371.2L659.0 371.1L659.5 371.0L660.0 370.9L660.5 370.8L661.0 370.6L661.5 370.4L662.0 370.4L662.5 370.3L663.0 370.4L663.5 370.5L664.0 370.6L664.5 370.9L665.0 370.9L665.5 371.0L666.0 371.0L666.5 370.9L667.0 370.7L667.5 370.5L668.0 370.7L668.5 370.6L669.0 370.6L669.5 370.5L670.0 370.4L670.5 370.2L671.0 370.2L671.5 370.1L672.0 370.1L672.5 370.4L673.0 370.7L673.5 370.7L674.0 370.6L674.5 370.7L675.0 370.7L675.5 370.7L676.0 370.8L676.5 370.9" stroke-width="2.8" stroke-dasharray="9 2.5"/>
<path d="M59.5 370.5L60.0 370.1L60.5 369.9L61.0 369.7L61.5 369.5L62.0 369.5L62.5 369.6L63.0 369.8L63.5 369.7L64.0 369.7L64.5 369.8L65.0 369.8L65.5 369.7L66.0 369.6L66.5 369.8L67.0 370.0L67.5 369.9L68.0 369.8L68.5 370.1L69.0 370.1L69.5 370.1L70.0 370.1L70.5 370.2L71.0 370.3L71.5 370.2L72.0 370.2L72.5 370.1L73.0 369.9L73.5 369.8L74.0 369.8L74.5 369.7L75.0 369.7L75.5 369.7L76.0 369.8L76.5 369.8L77.0 370.0L77.5 369.9L78.0 370.1L78.5 370.0L79.0 369.9L79.5 369.9L80.0 369.7L80.5 370.0L81.0 369.7L81.5 369.8L82.0 369.9L82.5 369.8L83.0 369.6L83.5 369.6L84.0 369.8L84.5 369.9L85.0 369.9L85.5 370.1L86.0 370.2L86.5 370.3L87.0 370.2L87.5 370.0L88.0 370.0L88.5 369.8L89.0 369.9L89.5 369.7L90.0 369.8L90.5 370.0L91.0 369.9L91.5 370.0L92.0 370.0L92.5 370.0L93.0 370.0L93.5 369.8L94.0 369.9L94.5 370.1L95.0 369.9L95.5 370.2L96.0 370.3L96.5 370.3L97.0 370.2L97.5 370.1L98.0 369.9L98.5 369.8L99.0 369.5L99.5 369.5L100.0 369.8L100.5 369.8L101.0 369.9L101.5 369.8L102.0 370.0L102.5 369.9L103.0 369.7L103.5 369.7L104.0 369.8L104.5 369.9L105.0 369.8L105.5 369.8L106.0 369.9L106.5 370.0L107.0 369.9L107.5 369.9L108.0 370.0L108.5 370.1L109.0 370.1L109.5 369.9L110.0 369.9L110.5 369.9L111.0 369.9L111.5 369.8L112.0 369.9L112.5 370.3L113.0 370.4L113.5 370.5L114.0 370.3L114.5 370.1L115.0 370.0L115.5 369.7L116.0 369.8L116.5 369.7L117.0 369.9L117.5 370.1L118.0 370.1L118.5 369.9L119.0 369.9L119.5 369.9L120.0 370.1L120.5 369.9L121.0 369.9L121.5 370.0L122.0 369.9L122.5 370.1L123.0 369.9L123.5 370.0L124.0 370.0L124.5 370.0L125.0 369.9L125.5 369.7L126.0 369.7L126.5 369.8L127.0 369.7L127.5 369.5L128.0 369.5L128.5 369.3L129.0 369.1L129.5 369.0L130.0 369.0L130.5 368.9L131.0 368.8L131.5 369.0L132.0 369.0L132.5 368.9L133.0 369.1L133.5 369.4L134.0 369.5L134.5 369.4L135.0 369.4L135.5 369.4L136.0 369.5L136.5 369.5L137.0 369.7L137.5 369.7L138.0 369.7L138.5 369.8L139.0 369.7L139.5 369.7L140.0 369.6L140.5 369.7L141.0 370.0L141.5 370.2L142.0 370.4L142.5 370.4L143.0 370.6L143.5 370.5L144.0 370.4L144.5 370.2L145.0 370.0L145.5 369.9L146.0 369.9L146.5 369.9L147.0 369.9L147.5 369.8L148.0 369.9L148.5 369.8L149.0 369.8L149.5 369.8L150.0 369.8L150.5 369.9L151.0 369.7L151.5 369.7L152.0 369.6L152.5 369.8L153.0 369.6L153.5 369.6L154.0 369.7L154.5 369.7L155.0 369.5L155.5 369.3L156.0 369.4L156.5 369.5L157.0 369.6L157.5 369.8L158.0 370.0L158.5 370.2L159.0 370.4L159.5 370.2L160.0 370.1L160.5 370.2L161.0 370.0L161.5 369.8L162.0 369.5L162.5 369.5L163.0 369.4L163.5 369.3L164.0 369.6L164.5 369.8L165.0 369.9L165.5 369.9L166.0 370.0L166.5 369.9L167.0 369.9L167.5 369.7L168.0 369.5L168.5 369.7L169.0 369.5L169.5 369.5L170.0 369.5L170.5 369.6L171.0 369.9L171.5 369.6L172.0 369.9L172.5 370.0L173.0 369.9L173.5 370.0L174.0 369.7L174.5 370.0L175.0 370.0L175.5 369.8L176.0 369.8L176.5 369.7L177.0 369.8L177.5 369.8L178.0 369.8L178.5 370.0L179.0 370.2L179.5 370.2L180.0 370.3L180.5 370.1L181.0 370.0L181.5 369.7L182.0 369.7L182.5 369.6L183.0 369.6L183.5 369.7L184.0 369.7L184.5 369.8L185.0 369.9L185.5 370.2L186.0 370.1L186.5 370.0L187.0 370.1L187.5 370.0L188.0 370.1L188.5 370.0L189.0 370.2L189.5 370.4L190.0 370.4L190.5 370.4L191.0 370.2L191.5 370.2L192.0 370.1L192.5 370.0L193.0 370.2L193.5 370.3L194.0 370.3L194.5 370.2L195.0 370.0L195.5 370.1L196.0 370.0L196.5 369.8L197.0 369.7L197.5 369.7L198.0 369.7L198.5 369.6L199.0 369.5L199.5 369.6L200.0 369.7L200.5 369.7L201.0 369.9L201.5 370.0L202.0 370.0L202.5 370.1L203.0 370.2L203.5 370.2L204.0 370.3L204.5 370.1L205.0 370.2L205.5 370.2L206.0 370.0L206.5 369.7L207.0 369.7L207.5 369.7L208.0 369.5L208.5 369.5L209.0 369.6L209.5 369.9L210.0 369.7L210.5 369.7L211.0 369.9L211.5 369.8L212.0 369.8L212.5 369.8L213.0 369.9L213.5 370.1L214.0 370.0L214.5 370.0L215.0 369.8L215.5 369.7L216.0 369.5L216.5 369.4L217.0 369.4L217.5 369.4L218.0 369.8L218.5 370.0L219.0 369.9L219.5 370.0L220.0 369.9L220.5 370.0L221.0 369.8L221.5 369.8L222.0 370.0L222.5 370.1L223.0 370.1L223.5 369.8L224.0 369.7L224.5 369.5L225.0 369.4L225.5 369.3L226.0 369.5L226.5 369.7L227.0 369.9L227.5 370.0L228.0 370.2L228.5 370.2L229.0 370.1L229.5 370.0L230.0 369.9L230.5 370.1L231.0 369.7L231.5 369.8L232.0 369.7L232.5 369.9L233.0 369.7L233.5 369.6L234.0 369.8L234.5 370.0L235.0 370.0L235.5 369.9L236.0 370.0L236.5 370.0L237.0 369.9L237.5 369.7L238.0 369.7L238.5 370.0L239.0 370.1L239.5 369.8L240.0 370.2L240.5 370.2L241.0 370.1L241.5 370.0L242.0 369.9L242.5 370.0L243.0 369.7L243.5 369.9L244.0 369.7L244.5 369.5L245.0 369.6L245.5 369.7L246.0 369.8L246.5 369.9L247.0 369.9L247.5 370.2L248.0 370.2L248.5 370.3L249.0 370.3L249.5 370.0L250.0 370.0L250.5 369.9L251.0 369.7L251.5 369.7L252.0 369.6L252.5 369.6L253.0 369.7L253.5 369.8L254.0 370.0L254.5 369.9L255.0 370.0L255.5 370.0L256.0 370.2L256.5 370.1L257.0 370.1L257.5 370.2L258.0 370.2L258.5 370.3L259.0 370.3L259.5 370.1L260.0 370.1L260.5 370.1L261.0 369.9L261.5 369.9L262.0 369.8L262.5 369.9L263.0 369.9L263.5 369.8L264.0 369.8L264.5 369.8L265.0 369.8L265.5 369.7L266.0 369.6L266.5 369.7L267.0 369.4L267.5 369.5L268.0 369.5L268.5 369.5L269.0 369.5L269.5 369.4L270.0 369.8L270.5 369.7L271.0 369.7L271.5 369.9L272.0 370.1L272.5 370.0L273.0 369.8L273.5 369.7L274.0 369.6L274.5 369.3L275.0 369.0L275.5 369.1L276.0 369.1L276.5 369.3L277.0 369.4L277.5 369.7L278.0 369.7L278.5 369.7L279.0 369.8L279.5 369.7L280.0 369.6L280.5 369.6L281.0 369.8L281.5 370.1L282.0 370.0L282.5 370.1L283.0 370.2L283.5 370.1L284.0 370.1L284.5 369.9L285.0 370.0L285.5 369.8L286.0 369.8L286.5 370.0L287.0 369.9L287.5 370.1L288.0 369.9L288.5 370.0L289.0 369.8L289.5 369.7L290.0 369.7L290.5 369.5L291.0 369.6L291.5 369.5L292.0 369.9L292.5 369.9L293.0 369.9L293.5 370.0L294.0 370.2L294.5 370.2L295.0 369.8L295.5 369.8L296.0 369.9L296.5 369.9L297.0 369.8L297.5 369.7L298.0 369.8L298.5 369.9L299.0 369.7L299.5 369.7L300.0 369.7L300.5 369.8L301.0 369.9L301.5 370.0L302.0 370.1L302.5 370.0L303.0 370.0L303.5 370.1L304.0 370.0L304.5 370.1L305.0 370.1L305.5 370.1L306.0 370.2L306.5 370.2L307.0 370.1L307.5 369.9L308.0 369.8L308.5 370.0L309.0 369.9L309.5 369.9L310.0 369.9L310.5 369.9L311.0 370.1L311.5 369.9L312.0 370.1L312.5 369.8L313.0 369.9L313.5 369.9L314.0 369.8L314.5 369.7L315.0 369.6L315.5 369.6L316.0 369.7L316.5 369.7L317.0 369.8L317.5 369.9L318.0 369.8L318.5 369.9L319.0 369.8L319.5 369.8L320.0 369.7L320.5 369.8L321.0 369.9L321.5 370.1L322.0 370.0L322.5 369.9L323.0 370.0L323.5 370.0L324.0 369.9L324.5 369.7L325.0 369.9L325.5 370.0L326.0 369.8L326.5 369.7L327.0 369.7L327.5 369.6L328.0 369.8L328.5 369.7L329.0 369.8L329.5 370.1L330.0 370.2L330.5 370.5L331.0 370.3L331.5 370.6L332.0 370.5L332.5 370.2L333.0 370.2L333.5 370.2L334.0 370.1L334.5 370.0L335.0 369.9L335.5 369.9L336.0 370.0L336.5 369.8L337.0 369.9L337.5 369.9L338.0 369.9L338.5 369.9L339.0 369.9L339.5 370.2L340.0 370.1L340.5 369.9L341.0 370.1L341.5 370.3L342.0 370.3L342.5 370.0L343.0 370.1L343.5 370.2L344.0 370.4L344.5 370.0L345.0 369.9L345.5 370.0L346.0 370.0L346.5 369.7L347.0 369.4L347.5 369.7L348.0 369.8L348.5 369.8L349.0 369.8L349.5 370.1L350.0 370.2L350.5 370.1L351.0 370.3L351.5 370.2L352.0 370.2L352.5 370.2L353.0 370.1L353.5 370.1L354.0 369.9L354.5 369.8L355.0 370.0L355.5 369.9L356.0 370.2L356.5 370.3L357.0 370.4L357.5 370.4L358.0 370.3L358.5 370.2L359.0 370.1L359.5 370.0L360.0 370.0L360.5 370.0L361.0 370.0L361.5 369.9L362.0 369.8L362.5 369.9L363.0 369.8L363.5 369.6L364.0 369.4L364.5 369.3L365.0 368.8L365.5 368.1L366.0 367.4L366.5 366.5L367.0 365.3L367.5 363.5L368.0 361.4L368.5 358.8L369.0 355.3L369.5 350.9L370.0 345.5L370.5 339.3L371.0 331.8L371.5 323.5L372.0 314.5L372.5 304.8L373.0 295.2L373.5 285.8L374.0 277.6L374.5 270.7L375.0 266.2L375.5 264.3L376.0 264.7L376.5 267.3L377.0 271.7L377.5 277.1L378.0 283.1L378.5 289.3L379.0 296.0L379.5 302.7L380.0 308.8L380.5 314.8L381.0 320.3L381.5 325.4L382.0 330.1L382.5 334.4L383.0 338.2L383.5 341.4L384.0 344.1L384.5 347.0L385.0 349.2L385.5 351.3L386.0 353.1L386.5 354.9L387.0 356.6L387.5 357.7L388.0 358.9L388.5 360.1L389.0 361.0L389.5 362.0L390.0 362.8L390.5 363.7L391.0 364.9L391.5 365.6L392.0 366.4L392.5 367.0L393.0 367.6L393.5 367.9L394.0 368.2L394.5 368.8L395.0 369.1L395.5 369.4L396.0 369.4L396.5 369.6L397.0 369.8L397.5 369.9L398.0 370.0L398.5 370.1L399.0 370.1L399.5 370.1L400.0 370.1L400.5 370.0L401.0 370.0L401.5 369.9L402.0 369.9L402.5 369.6L403.0 369.8L403.5 369.5L404.0 369.6L404.5 369.6L405.0 369.6L405.5 369.8L406.0 369.7L406.5 369.9L407.0 370.1L407.5 370.3L408.0 370.3L408.5 370.1L409.0 370.0L409.5 370.1L410.0 370.3L410.5 370.0L411.0 369.9L411.5 370.2L412.0 370.2L412.5 370.1L413.0 369.8L413.5 369.8L414.0 369.8L414.5 369.9L415.0 369.7L415.5 369.8L416.0 369.9L416.5 370.0L417.0 369.9L417.5 369.7L418.0 369.9L418.5 369.8L419.0 369.6L419.5 369.5L420.0 369.4L420.5 369.6L421.0 369.5L421.5 369.7L422.0 369.8L422.5 369.8L423.0 369.8L423.5 369.8L424.0 369.9L424.5 369.9L425.0 369.9L425.5 370.1L426.0 370.3L426.5 370.2L427.0 370.0L427.5 370.1L428.0 369.8L428.5 369.8L429.0 369.7L429.5 369.8L430.0 369.8L430.5 369.9L431.0 369.9L431.5 369.7L432.0 369.8L432.5 369.6L433.0 369.6L433.5 369.3L434.0 369.5L434.5 369.4L435.0 369.3L435.5 369.1L436.0 368.7L436.5 368.5L437.0 368.1L437.5 367.3L438.0 366.5L438.5 365.3L439.0 364.4L439.5 363.1L440.0 361.3L440.5 359.8L441.0 358.0L441.5 356.2L442.0 354.3L442.5 353.0L443.0 352.0L443.5 351.6L444.0 351.7L444.5 352.2L445.0 353.1L445.5 353.7L446.0 354.5L446.5 355.4L447.0 356.6L447.5 357.4L448.0 357.9L448.5 358.9L449.0 359.8L449.5 360.6L450.0 361.0L450.5 361.8L451.0 362.6L451.5 363.1L452.0 363.5L452.5 364.0L453.0 364.7L453.5 365.0L454.0 365.6L454.5 366.2L455.0 366.8L455.5 367.1L456.0 367.4L456.5 367.8L457.0 367.9L457.5 368.0L458.0 368.0L458.5 368.1L459.0 368.1L459.5 368.2L460.0 368.4L460.5 368.4L461.0 368.8L461.5 368.9L462.0 369.0L462.5 369.1L463.0 369.4L463.5 369.8L464.0 369.7L464.5 369.9L465.0 370.3L465.5 370.3L466.0 370.1L466.5 370.0L467.0 370.1L467.5 370.0L468.0 370.0L468.5 370.1L469.0 370.3L469.5 370.4L470.0 370.4L470.5 370.7L471.0 370.6L471.5 370.5L472.0 370.5L472.5 370.3L473.0 370.3L473.5 370.1L474.0 369.9L474.5 369.8L475.0 369.8L475.5 369.8L476.0 369.9L476.5 369.6L477.0 369.7L477.5 369.8L478.0 369.8L478.5 369.7L479.0 369.5L479.5 369.6L480.0 369.7L480.5 369.9L481.0 369.8L481.5 369.8L482.0 369.8L482.5 369.8L483.0 369.8L483.5 369.6L484.0 369.5L484.5 369.5L485.0 369.7L485.5 369.9L486.0 369.9L486.5 370.0L487.0 370.2L487.5 370.3L488.0 370.0L488.5 369.9L489.0 369.8L489.5 369.8L490.0 369.8L490.5 369.5L491.0 369.7L491.5 369.8L492.0 369.7L492.5 369.8L493.0 369.8L493.5 370.0L494.0 369.9L494.5 369.9L495.0 370.0L495.5 369.7L496.0 369.7L496.5 369.6L497.0 369.6L497.5 369.7L498.0 369.7L498.5 369.7L499.0 369.8L499.5 369.7L500.0 369.6L500.5 369.5L501.0 369.3L501.5 369.6L502.0 369.4L502.5 369.7L503.0 369.8L503.5 369.8L504.0 369.9L504.5 369.6L505.0 369.6L505.5 369.3L506.0 369.3L506.5 369.1L507.0 369.2L507.5 369.6L508.0 369.6L508.5 369.7L509.0 369.8L509.5 369.9L510.0 369.9L510.5 369.8L511.0 369.9L511.5 369.8L512.0 369.5L512.5 369.9L513.0 370.0L513.5 369.7L514.0 369.7L514.5 369.9L515.0 370.1L515.5 369.7L516.0 369.8L516.5 370.0L517.0 370.0L517.5 370.0L518.0 370.0L518.5 370.1L519.0 370.0L519.5 369.8L520.0 369.9L520.5 369.9L521.0 370.0L521.5 370.1L522.0 370.2L522.5 370.5L523.0 370.5L523.5 370.4L524.0 370.4L524.5 370.3L525.0 370.0L525.5 369.9L526.0 369.9L526.5 370.0L527.0 369.7L527.5 369.9L528.0 370.0L528.5 370.0L529.0 370.1L529.5 369.9L530.0 370.2L530.5 370.1L531.0 370.0L531.5 369.9L532.0 369.7L532.5 369.9L533.0 369.8L533.5 369.9L534.0 369.8L534.5 370.1L535.0 370.1L535.5 370.0L536.0 370.0L536.5 370.0L537.0 370.1L537.5 370.0L538.0 370.2L538.5 370.3L539.0 370.3L539.5 370.2L540.0 370.2L540.5 370.3L541.0 370.1L541.5 370.0L542.0 369.9L542.5 369.9L543.0 369.9L543.5 369.7L544.0 369.8L544.5 369.9L545.0 370.0L545.5 369.9L546.0 369.9L546.5 370.3L547.0 370.0L547.5 369.9L548.0 369.8L548.5 369.8L549.0 370.0L549.5 369.7L550.0 369.7L550.5 369.6L551.0 369.7L551.5 369.8L552.0 369.6L552.5 369.6L553.0 369.7L553.5 369.9L554.0 370.0L554.5 369.9L555.0 369.8L555.5 370.0L556.0 369.7L556.5 369.7L557.0 369.7L557.5 369.7L558.0 370.0L558.5 369.7L559.0 370.0L559.5 369.9L560.0 369.9L560.5 370.1L561.0 369.9L561.5 370.2L562.0 370.2L562.5 370.1L563.0 370.2L563.5 370.2L564.0 370.3L564.5 370.1L565.0 370.0L565.5 370.0L566.0 369.9L566.5 369.8L567.0 369.8L567.5 369.9L568.0 370.1L568.5 370.1L569.0 369.9L569.5 369.7L570.0 369.9L570.5 369.8L571.0 369.5L571.5 369.6L572.0 369.7L572.5 369.9L573.0 369.7L573.5 369.6L574.0 369.8L574.5 369.9L575.0 369.9L575.5 369.9L576.0 370.0L576.5 370.0L577.0 369.9L577.5 370.0L578.0 370.0L578.5 369.9L579.0 370.0L579.5 370.2L580.0 370.0L580.5 369.9L581.0 369.9L581.5 369.9L582.0 369.8L582.5 369.9L583.0 370.0L583.5 369.9L584.0 370.0L584.5 369.9L585.0 370.0L585.5 369.9L586.0 370.0L586.5 370.2L587.0 370.1L587.5 370.1L588.0 370.0L588.5 370.0L589.0 370.1L589.5 370.1L590.0 370.2L590.5 370.2L591.0 370.3L591.5 370.2L592.0 370.2L592.5 370.1L593.0 370.0L593.5 370.0L594.0 370.1L594.5 370.0L595.0 369.9L595.5 369.9L596.0 369.7L596.5 369.8L597.0 369.8L597.5 369.7L598.0 369.6L598.5 369.8L599.0 369.8L599.5 369.6L600.0 369.7L600.5 369.8L601.0 369.9L601.5 369.9L602.0 369.8L602.5 370.0L603.0 369.8L603.5 370.0L604.0 369.9L604.5 370.0L605.0 370.1L605.5 370.3L606.0 370.3L606.5 370.1L607.0 370.2L607.5 369.9L608.0 369.9L608.5 369.7L609.0 369.8L609.5 369.8L610.0 369.8L610.5 370.0L611.0 370.0L611.5 370.0L612.0 370.1L612.5 370.2L613.0 370.2L613.5 370.1L614.0 370.3L614.5 370.3L615.0 370.2L615.5 370.2L616.0 370.1L616.5 370.0L617.0 369.8L617.5 369.6L618.0 369.5L618.5 369.5L619.0 369.8L619.5 369.9L620.0 370.1L620.5 370.1L621.0 370.3L621.5 370.2L622.0 369.9L622.5 369.9L623.0 369.9L623.5 369.8L624.0 369.7L624.5 369.8L625.0 370.0L625.5 370.0L626.0 369.9L626.5 369.9L627.0 369.8L627.5 369.6L628.0 369.6L628.5 369.5L629.0 369.6L629.5 369.7L630.0 369.8L630.5 369.8L631.0 369.8L631.5 370.0L632.0 369.9L632.5 369.9L633.0 369.8L633.5 369.9L634.0 369.9L634.5 369.8L635.0 369.8L635.5 369.7L636.0 369.5L636.5 369.5L637.0 369.5L637.5 369.4L638.0 369.4L638.5 369.6L639.0 369.8L639.5 369.8L640.0 369.7L640.5 370.2L641.0 370.2L641.5 370.3L642.0 370.2L642.5 370.3L643.0 370.4L643.5 370.1L644.0 369.9L644.5 369.8L645.0 369.9L645.5 369.8L646.0 369.7L646.5 369.8L647.0 369.9L647.5 369.9L648.0 369.9L648.5 370.1L649.0 369.9L649.5 370.0L650.0 370.0L650.5 370.1L651.0 370.0L651.5 369.9L652.0 369.8L652.5 369.6L653.0 369.6L653.5 369.6L654.0 369.6L654.5 369.4L655.0 369.5L655.5 369.5L656.0 369.6L656.5 369.3L657.0 369.4L657.5 369.7L658.0 369.9L658.5 369.9L659.0 369.5L659.5 369.7L660.0 369.7L660.5 369.7L661.0 369.6L661.5 369.5L662.0 370.0L662.5 369.9L663.0 369.9L663.5 369.8L664.0 370.0L664.5 369.9L665.0 369.7L665.5 369.7L666.0 369.7L666.5 369.9L667.0 369.8L667.5 370.1L668.0 370.1L668.5 370.1L669.0 370.1L669.5 369.9L670.0 370.0L670.5 369.7L671.0 369.9L671.5 370.0L672.0 370.1L672.5 370.3L673.0 370.1L673.5 370.0L674.0 369.9L674.5 369.8L675.0 369.8L675.5 369.8L676.0 369.8L676.5 370.0" stroke-width="2.9"/>
<path d="M59.5 817.7L60.0 817.6L60.5 817.2L61.0 817.1L61.5 816.8L62.0 816.8L62.5 816.7L63.0 816.8L63.5 817.0L64.0 817.0L64.5 817.0L65.0 817.1L65.5 817.1L66.0 817.1L66.5 817.2L67.0 817.3L67.5 817.3L68.0 817.1L68.5 817.0L69.0 817.0L69.5 817.0L70.0 817.1L70.5 817.1L71.0 817.1L71.5 817.4L72.0 817.4L72.5 817.3L73.0 817.1L73.5 817.0L74.0 817.1L74.5 817.2L75.0 817.0L75.5 816.9L76.0 816.9L76.5 817.0L77.0 816.9L77.5 816.7L78.0 816.7L78.5 816.7L79.0 816.7L79.5 816.7L80.0 816.8L80.5 817.0L81.0 817.1L81.5 817.2L82.0 817.4L82.5 817.4L83.0 817.4L83.5 817.0L84.0 816.9L84.5 816.7L85.0 816.6L85.5 816.5L86.0 816.6L86.5 817.1L87.0 817.3L87.5 817.2L88.0 817.2L88.5 817.2L89.0 817.0L89.5 816.7L90.0 816.6L90.5 816.8L91.0 816.9L91.5 817.0L92.0 817.1L92.5 817.3L93.0 817.1L93.5 817.0L94.0 817.0L94.5 817.1L95.0 817.2L95.5 816.9L96.0 817.2L96.5 817.3L97.0 817.2L97.5 817.0L98.0 816.9L98.5 816.9L99.0 816.8L99.5 816.7L100.0 816.6L100.5 816.7L101.0 816.6L101.5 816.8L102.0 817.0L102.5 816.9L103.0 816.9L103.5 816.9L104.0 817.2L104.5 817.1L105.0 817.0L105.5 817.0L106.0 817.1L106.5 817.2L107.0 817.1L107.5 817.1L108.0 816.7L108.5 816.8L109.0 816.8L109.5 816.7L110.0 816.8L110.5 816.8L111.0 817.0L111.5 817.1L112.0 817.2L112.5 817.3L113.0 817.2L113.5 817.2L114.0 817.2L114.5 816.9L115.0 816.8L115.5 816.7L116.0 816.7L116.5 816.3L117.0 816.4L117.5 816.5L118.0 816.7L118.5 816.7L119.0 816.6L119.5 816.9L120.0 817.0L120.5 816.9L121.0 816.7L121.5 816.8L122.0 816.9L122.5 816.8L123.0 816.9L123.5 817.0L124.0 817.1L124.5 816.9L125.0 816.9L125.5 816.8L126.0 816.6L126.5 816.9L127.0 816.9L127.5 816.9L128.0 817.0L128.5 817.0L129.0 817.1L129.5 816.7L130.0 816.5L130.5 816.2L131.0 816.0L131.5 815.7L132.0 815.7L132.5 815.9L133.0 816.1L133.5 816.4L134.0 816.6L134.5 816.9L135.0 816.6L135.5 816.9L136.0 816.8L136.5 817.0L137.0 817.2L137.5 817.1L138.0 817.2L138.5 817.0L139.0 817.0L139.5 816.8L140.0 816.7L140.5 816.8L141.0 816.7L141.5 816.8L142.0 816.8L142.5 816.8L143.0 816.9L143.5 816.9L144.0 817.0L144.5 817.0L145.0 817.1L145.5 817.0L146.0 817.1L146.5 817.1L147.0 817.2L147.5 817.1L148.0 817.0L148.5 817.2L149.0 817.0L149.5 817.0L150.0 816.9L150.5 817.1L151.0 816.9L151.5 816.8L152.0 817.0L152.5 817.0L153.0 817.2L153.5 816.8L154.0 816.9L154.5 816.8L155.0 816.6L155.5 816.5L156.0 816.4L156.5 816.6L157.0 816.7L157.5 816.8L158.0 816.9L158.5 817.1L159.0 817.1L159.5 817.4L160.0 817.3L160.5 817.3L161.0 817.4L161.5 817.1L162.0 817.2L162.5 817.1L163.0 817.3L163.5 817.2L164.0 817.3L164.5 817.5L165.0 817.5L165.5 817.0L166.0 816.9L166.5 817.0L167.0 816.8L167.5 816.4L168.0 816.2L168.5 816.5L169.0 816.3L169.5 816.2L170.0 816.3L170.5 816.5L171.0 816.5L171.5 816.7L172.0 816.9L172.5 816.8L173.0 816.8L173.5 817.0L174.0 817.1L174.5 816.9L175.0 816.9L175.5 817.3L176.0 817.1L176.5 817.1L177.0 817.1L177.5 817.3L178.0 817.3L178.5 817.1L179.0 817.1L179.5 817.2L180.0 816.9L180.5 817.0L181.0 817.0L181.5 817.1L182.0 817.1L182.5 816.9L183.0 817.0L183.5 816.8L184.0 816.9L184.5 816.8L185.0 816.9L185.5 817.1L186.0 817.2L186.5 817.2L187.0 817.1L187.5 817.1L188.0 817.0L188.5 817.0L189.0 817.1L189.5 817.2L190.0 817.3L190.5 817.1L191.0 817.1L191.5 816.9L192.0 817.0L192.5 817.0L193.0 816.7L193.5 817.0L194.0 817.1L194.5 817.3L195.0 817.1L195.5 817.2L196.0 817.2L196.5 816.9L197.0 817.0L197.5 817.1L198.0 817.0L198.5 816.9L199.0 816.9L199.5 816.6L200.0 816.4L200.5 816.4L201.0 816.4L201.5 816.4L202.0 816.6L202.5 817.1L203.0 817.3L203.5 817.2L204.0 817.5L204.5 817.6L205.0 817.5L205.5 817.5L206.0 817.4L206.5 817.5L207.0 817.2L207.5 817.3L208.0 817.3L208.5 817.3L209.0 817.2L209.5 817.2L210.0 817.2L210.5 817.1L211.0 817.4L211.5 817.3L212.0 817.4L212.5 817.4L213.0 817.3L213.5 817.4L214.0 817.2L214.5 817.3L215.0 817.3L215.5 817.4L216.0 817.5L216.5 817.4L217.0 817.5L217.5 817.4L218.0 817.4L218.5 817.3L219.0 817.1L219.5 816.9L220.0 816.9L220.5 816.9L221.0 816.9L221.5 816.9L222.0 817.0L222.5 817.1L223.0 817.1L223.5 816.9L224.0 816.9L224.5 817.1L225.0 817.1L225.5 817.0L226.0 817.0L226.5 817.1L227.0 816.9L227.5 816.8L228.0 816.8L228.5 817.1L229.0 817.0L229.5 817.0L230.0 817.2L230.5 817.2L231.0 817.1L231.5 817.0L232.0 817.3L232.5 817.3L233.0 817.1L233.5 817.2L234.0 817.3L234.5 817.2L235.0 817.0L235.5 816.8L236.0 816.9L236.5 816.9L237.0 816.9L237.5 816.9L238.0 816.8L238.5 817.1L239.0 817.2L239.5 817.1L240.0 817.0L240.5 817.0L241.0 816.9L241.5 816.6L242.0 816.6L242.5 816.5L243.0 816.6L243.5 816.8L244.0 817.0L244.5 817.1L245.0 817.0L245.5 817.0L246.0 816.9L246.5 817.0L247.0 817.0L247.5 817.3L248.0 817.4L248.5 817.4L249.0 817.2L249.5 817.0L250.0 816.9L250.5 816.7L251.0 816.7L251.5 816.9L252.0 817.1L252.5 817.3L253.0 817.4L253.5 817.3L254.0 817.3L254.5 817.1L255.0 817.0L255.5 816.9L256.0 817.0L256.5 817.1L257.0 817.1L257.5 817.1L258.0 817.1L258.5 817.2L259.0 817.2L259.5 817.0L260.0 816.9L260.5 817.0L261.0 817.2L261.5 817.2L262.0 817.1L262.5 817.2L263.0 817.5L263.5 817.4L264.0 817.2L264.5 817.2L265.0 817.3L265.5 817.4L266.0 817.2L266.5 817.3L267.0 817.3L267.5 817.2L268.0 817.2L268.5 817.2L269.0 817.2L269.5 817.1L270.0 817.0L270.5 817.1L271.0 817.0L271.5 817.1L272.0 817.1L272.5 817.0L273.0 817.2L273.5 817.2L274.0 817.2L274.5 817.0L275.0 817.0L275.5 816.9L276.0 816.8L276.5 816.8L277.0 816.5L277.5 816.6L278.0 816.7L278.5 816.7L279.0 816.6L279.5 816.6L280.0 816.8L280.5 817.0L281.0 817.2L281.5 817.2L282.0 817.3L282.5 817.3L283.0 817.2L283.5 816.9L284.0 816.8L284.5 816.6L285.0 816.6L285.5 816.5L286.0 816.6L286.5 816.8L287.0 816.7L287.5 817.0L288.0 817.0L288.5 817.2L289.0 817.2L289.5 817.4L290.0 817.6L290.5 817.5L291.0 817.3L291.5 817.1L292.0 817.1L292.5 816.7L293.0 816.5L293.5 816.6L294.0 816.8L294.5 816.8L295.0 817.0L295.5 817.0L296.0 817.0L296.5 816.9L297.0 816.8L297.5 816.8L298.0 816.8L298.5 817.0L299.0 817.0L299.5 817.0L300.0 817.1L300.5 817.1L301.0 817.0L301.5 817.1L302.0 817.0L302.5 817.2L303.0 817.1L303.5 817.2L304.0 817.2L304.5 817.0L305.0 817.1L305.5 817.1L306.0 817.3L306.5 817.3L307.0 817.2L307.5 817.2L308.0 817.1L308.5 816.9L309.0 817.0L309.5 817.0L310.0 817.0L310.5 816.9L311.0 816.9L311.5 816.8L312.0 816.7L312.5 816.6L313.0 816.7L313.5 817.1L314.0 817.0L314.5 817.0L315.0 816.9L315.5 817.0L316.0 816.8L316.5 816.6L317.0 816.8L317.5 816.9L318.0 817.1L318.5 816.9L319.0 817.1L319.5 816.9L320.0 816.7L320.5 816.8L321.0 816.7L321.5 816.9L322.0 816.9L322.5 817.2L323.0 817.4L323.5 817.3L324.0 817.3L324.5 817.4L325.0 817.5L325.5 817.5L326.0 817.3L326.5 817.6L327.0 817.6L327.5 817.3L328.0 817.3L328.5 817.2L329.0 817.2L329.5 817.1L330.0 817.2L330.5 817.3L331.0 817.0L331.5 817.0L332.0 816.9L332.5 816.9L333.0 816.9L333.5 816.9L334.0 817.0L334.5 816.9L335.0 817.0L335.5 817.0L336.0 817.0L336.5 817.1L337.0 817.2L337.5 817.3L338.0 817.4L338.5 817.6L339.0 817.4L339.5 817.3L340.0 817.3L340.5 817.4L341.0 817.3L341.5 817.1L342.0 817.1L342.5 817.2L343.0 817.0L343.5 816.9L344.0 816.8L344.5 816.9L345.0 817.1L345.5 816.9L346.0 816.9L346.5 816.7L347.0 816.9L347.5 817.0L348.0 816.9L348.5 816.9L349.0 817.0L349.5 817.5L350.0 817.3L350.5 817.1L351.0 817.1L351.5 817.1L352.0 817.1L352.5 816.7L353.0 816.7L353.5 816.4L354.0 815.9L354.5 815.6L355.0 815.0L355.5 814.6L356.0 813.8L356.5 812.8L357.0 811.4L357.5 809.6L358.0 807.2L358.5 804.2L359.0 800.6L359.5 796.5L360.0 791.5L360.5 786.1L361.0 780.3L361.5 774.1L362.0 767.9L362.5 762.0L363.0 756.7L363.5 752.1L364.0 749.1L364.5 747.8L365.0 748.1L365.5 749.4L366.0 751.6L366.5 754.3L367.0 757.5L367.5 761.0L368.0 764.3L368.5 767.9L369.0 771.4L369.5 775.2L370.0 778.2L370.5 781.2L371.0 784.1L371.5 786.6L372.0 788.8L372.5 790.9L373.0 793.3L373.5 794.9L374.0 796.5L374.5 798.2L375.0 799.9L375.5 801.1L376.0 802.1L376.5 803.2L377.0 804.1L377.5 805.1L378.0 805.9L378.5 806.6L379.0 807.4L379.5 807.9L380.0 809.0L380.5 810.0L381.0 811.0L381.5 811.7L382.0 812.6L382.5 813.4L383.0 813.9L383.5 814.5L384.0 814.7L384.5 815.3L385.0 815.6L385.5 815.8L386.0 816.1L386.5 816.3L387.0 816.4L387.5 816.5L388.0 816.5L388.5 816.7L389.0 817.0L389.5 817.0L390.0 817.2L390.5 817.1L391.0 817.0L391.5 816.9L392.0 816.7L392.5 816.7L393.0 816.6L393.5 816.8L394.0 816.9L394.5 817.1L395.0 817.1L395.5 817.1L396.0 817.1L396.5 817.1L397.0 817.3L397.5 817.3L398.0 817.4L398.5 817.5L399.0 817.4L399.5 817.2L400.0 817.1L400.5 816.9L401.0 817.1L401.5 816.9L402.0 816.8L402.5 817.2L403.0 817.4L403.5 817.5L404.0 817.4L404.5 817.6L405.0 817.6L405.5 817.4L406.0 817.0L406.5 817.0L407.0 817.0L407.5 816.9L408.0 817.0L408.5 817.1L409.0 817.0L409.5 817.0L410.0 816.8L410.5 816.9L411.0 816.9L411.5 816.9L412.0 817.1L412.5 817.0L413.0 816.9L413.5 816.9L414.0 816.7L414.5 816.8L415.0 816.8L415.5 816.6L416.0 816.5L416.5 816.4L417.0 816.3L417.5 815.9L418.0 815.5L418.5 815.3L419.0 815.2L419.5 814.7L420.0 814.3L420.5 813.9L421.0 813.4L421.5 812.7L422.0 812.2L422.5 811.5L423.0 810.4L423.5 809.3L424.0 808.2L424.5 807.0L425.0 805.5L425.5 803.7L426.0 802.0L426.5 800.3L427.0 798.2L427.5 796.2L428.0 794.3L428.5 792.7L429.0 791.2L429.5 789.7L430.0 788.6L430.5 787.6L431.0 787.3L431.5 787.1L432.0 787.6L432.5 788.4L433.0 789.5L433.5 790.8L434.0 792.0L434.5 793.5L435.0 794.7L435.5 796.0L436.0 797.3L436.5 798.7L437.0 800.0L437.5 801.3L438.0 802.6L438.5 803.7L439.0 804.8L439.5 805.9L440.0 806.9L440.5 808.0L441.0 808.8L441.5 809.6L442.0 810.3L442.5 811.0L443.0 811.2L443.5 811.5L444.0 812.2L444.5 812.5L445.0 812.9L445.5 813.2L446.0 813.8L446.5 814.1L447.0 814.6L447.5 815.0L448.0 815.2L448.5 815.5L449.0 815.6L449.5 815.8L450.0 815.7L450.5 816.0L451.0 816.3L451.5 816.6L452.0 816.9L452.5 817.0L453.0 816.9L453.5 816.7L454.0 816.7L454.5 816.4L455.0 816.5L455.5 816.3L456.0 816.6L456.5 816.7L457.0 816.6L457.5 816.6L458.0 816.5L458.5 816.8L459.0 816.8L459.5 817.0L460.0 817.2L460.5 817.1L461.0 817.1L461.5 816.8L462.0 816.8L462.5 816.9L463.0 816.8L463.5 816.9L464.0 817.1L464.5 817.2L465.0 817.2L465.5 817.0L466.0 817.0L466.5 816.8L467.0 817.0L467.5 817.1L468.0 817.0L468.5 817.1L469.0 817.2L469.5 817.2L470.0 817.1L470.5 817.1L471.0 817.1L471.5 817.2L472.0 817.2L472.5 817.3L473.0 817.4L473.5 817.3L474.0 817.4L474.5 817.3L475.0 817.3L475.5 817.4L476.0 817.1L476.5 817.1L477.0 816.9L477.5 817.0L478.0 817.1L478.5 817.2L479.0 817.2L479.5 817.2L480.0 817.4L480.5 817.3L481.0 817.3L481.5 817.2L482.0 817.3L482.5 817.3L483.0 817.1L483.5 817.4L484.0 817.3L484.5 817.3L485.0 817.2L485.5 817.2L486.0 817.4L486.5 817.1L487.0 817.2L487.5 817.2L488.0 817.3L488.5 817.1L489.0 816.9L489.5 817.1L490.0 816.9L490.5 816.8L491.0 817.0L491.5 817.0L492.0 817.2L492.5 817.1L493.0 817.3L493.5 817.5L494.0 817.4L494.5 817.7L495.0 817.6L495.5 817.4L496.0 817.0L496.5 817.0L497.0 817.1L497.5 817.0L498.0 817.0L498.5 816.9L499.0 817.1L499.5 817.1L500.0 817.2L500.5 816.9L501.0 817.1L501.5 817.4L502.0 817.5L502.5 817.3L503.0 817.1L503.5 817.3L504.0 817.1L504.5 816.9L505.0 817.0L505.5 817.0L506.0 817.1L506.5 817.2L507.0 817.3L507.5 817.5L508.0 817.3L508.5 817.3L509.0 817.3L509.5 817.2L510.0 817.2L510.5 817.0L511.0 817.1L511.5 817.0L512.0 817.0L512.5 817.3L513.0 817.3L513.5 817.4L514.0 817.3L514.5 817.6L515.0 817.3L515.5 817.1L516.0 817.0L516.5 816.9L517.0 816.8L517.5 816.7L518.0 817.0L518.5 816.9L519.0 817.0L519.5 817.1L520.0 817.2L520.5 817.2L521.0 817.1L521.5 817.1L522.0 817.3L522.5 817.3L523.0 817.0L523.5 816.8L524.0 816.9L524.5 816.9L525.0 816.7L525.5 816.5L526.0 816.8L526.5 817.0L527.0 816.8L527.5 816.9L528.0 816.8L528.5 817.0L529.0 816.8L529.5 816.7L530.0 816.8L530.5 816.8L531.0 817.0L531.5 816.9L532.0 816.8L532.5 816.8L533.0 817.0L533.5 816.9L534.0 816.6L534.5 816.6L535.0 816.8L535.5 816.8L536.0 816.7L536.5 816.7L537.0 816.9L537.5 816.8L538.0 817.0L538.5 816.9L539.0 817.0L539.5 817.2L540.0 817.2L540.5 817.3L541.0 817.2L541.5 817.2L542.0 817.0L542.5 817.1L543.0 817.0L543.5 816.9L544.0 817.0L544.5 817.2L545.0 817.2L545.5 817.1L546.0 817.2L546.5 817.1L547.0 817.0L547.5 817.0L548.0 816.8L548.5 816.9L549.0 817.1L549.5 817.2L550.0 817.2L550.5 817.2L551.0 817.3L551.5 817.3L552.0 817.2L552.5 817.3L553.0 817.2L553.5 817.4L554.0 817.4L554.5 817.4L555.0 817.5L555.5 817.4L556.0 817.4L556.5 817.3L557.0 817.4L557.5 817.2L558.0 817.3L558.5 817.5L559.0 817.6L559.5 817.7L560.0 817.6L560.5 817.7L561.0 817.5L561.5 817.5L562.0 817.4L562.5 817.2L563.0 817.0L563.5 817.2L564.0 817.1L564.5 817.0L565.0 817.0L565.5 817.0L566.0 817.1L566.5 816.8L567.0 816.7L567.5 816.8L568.0 817.0L568.5 817.1L569.0 817.3L569.5 817.3L570.0 817.5L570.5 817.6L571.0 817.6L571.5 817.5L572.0 817.5L572.5 817.7L573.0 817.7L573.5 817.5L574.0 817.3L574.5 817.4L575.0 817.1L575.5 816.9L576.0 816.8L576.5 816.8L577.0 816.6L577.5 816.5L578.0 816.6L578.5 816.5L579.0 816.5L579.5 816.8L580.0 817.0L580.5 817.4L581.0 817.5L581.5 817.7L582.0 817.8L582.5 817.6L583.0 817.4L583.5 817.2L584.0 817.1L584.5 817.0L585.0 816.8L585.5 817.0L586.0 816.9L586.5 816.9L587.0 817.1L587.5 817.1L588.0 817.3L588.5 817.5L589.0 817.5L589.5 817.3L590.0 817.4L590.5 817.4L591.0 817.4L591.5 817.2L592.0 817.3L592.5 817.6L593.0 817.5L593.5 817.3L594.0 817.1L594.5 817.1L595.0 817.1L595.5 817.1L596.0 817.0L596.5 817.2L597.0 817.2L597.5 817.2L598.0 817.3L598.5 817.1L599.0 817.3L599.5 817.3L600.0 817.5L600.5 817.3L601.0 817.1L601.5 817.4L602.0 817.3L602.5 817.1L603.0 817.2L603.5 817.1L604.0 817.0L604.5 816.7L605.0 816.7L605.5 816.8L606.0 816.8L606.5 816.9L607.0 817.3L607.5 817.4L608.0 817.2L608.5 817.3L609.0 817.2L609.5 817.0L610.0 816.9L610.5 816.8L611.0 817.1L611.5 817.0L612.0 817.0L612.5 817.2L613.0 817.2L613.5 817.2L614.0 817.1L614.5 817.1L615.0 817.2L615.5 817.1L616.0 817.2L616.5 817.4L617.0 817.4L617.5 817.4L618.0 817.6L618.5 817.6L619.0 817.5L619.5 817.4L620.0 817.5L620.5 817.5L621.0 817.3L621.5 817.2L622.0 817.3L622.5 817.4L623.0 817.4L623.5 817.4L624.0 817.2L624.5 817.4L625.0 817.2L625.5 817.2L626.0 816.9L626.5 816.8L627.0 816.8L627.5 816.5L628.0 816.6L628.5 816.6L629.0 816.7L629.5 816.9L630.0 817.2L630.5 817.3L631.0 817.5L631.5 817.3L632.0 817.2L632.5 817.2L633.0 817.0L633.5 817.2L634.0 817.0L634.5 817.1L635.0 817.0L635.5 817.0L636.0 817.1L636.5 817.2L637.0 817.1L637.5 817.0L638.0 817.2L638.5 817.2L639.0 817.2L639.5 816.9L640.0 817.0L640.5 817.1L641.0 816.9L641.5 816.9L642.0 816.8L642.5 817.0L643.0 817.0L643.5 817.2L644.0 817.2L644.5 817.2L645.0 817.4L645.5 817.4L646.0 817.4L646.5 817.3L647.0 817.4L647.5 817.4L648.0 817.4L648.5 817.3L649.0 817.2L649.5 817.2L650.0 817.1L650.5 817.0L651.0 816.7L651.5 816.6L652.0 816.7L652.5 816.5L653.0 816.3L653.5 816.3L654.0 816.7L654.5 816.7L655.0 816.7L655.5 816.9L656.0 817.2L656.5 817.4L657.0 817.3L657.5 817.3L658.0 817.3L658.5 817.2L659.0 817.1L659.5 817.1L660.0 816.9L660.5 817.0L661.0 817.0L661.5 817.1L662.0 817.1L662.5 817.0L663.0 817.1L663.5 817.1L664.0 817.2L664.5 817.1L665.0 817.0L665.5 817.0L666.0 817.0L666.5 817.2L667.0 816.9L667.5 816.9L668.0 817.0L668.5 816.9L669.0 816.9L669.5 816.9L670.0 817.2L670.5 817.2L671.0 817.3L671.5 817.6" stroke-width="2.8" stroke-dasharray="9 2.5"/>
<path d="M59.5 816.0L60.0 816.1L60.5 816.3L61.0 816.4L61.5 816.6L62.0 816.6L62.5 816.8L63.0 816.7L63.5 816.4L64.0 816.3L64.5 816.2L65.0 816.1L65.5 816.0L66.0 816.2L66.5 816.2L67.0 816.6L67.5 816.6L68.0 816.6L68.5 816.4L69.0 816.5L69.5 816.6L70.0 816.3L70.5 816.2L71.0 816.2L71.5 816.2L72.0 816.0L72.5 816.0L73.0 816.0L73.5 816.1L74.0 816.2L74.5 816.3L75.0 816.3L75.5 816.2L76.0 816.4L76.5 816.4L77.0 816.1L77.5 816.0L78.0 816.1L78.5 816.0L79.0 816.1L79.5 816.0L80.0 816.1L80.5 816.4L81.0 816.4L81.5 816.3L82.0 816.2L82.5 816.2L83.0 816.3L83.5 816.2L84.0 816.2L84.5 816.2L85.0 816.2L85.5 816.3L86.0 816.5L86.5 816.4L87.0 816.5L87.5 816.6L88.0 816.6L88.5 816.4L89.0 816.1L89.5 815.9L90.0 815.8L90.5 815.8L91.0 816.0L91.5 816.0L92.0 816.0L92.5 816.3L93.0 816.5L93.5 816.4L94.0 816.2L94.5 816.2L95.0 816.3L95.5 816.2L96.0 816.0L96.5 816.0L97.0 816.2L97.5 816.2L98.0 816.1L98.5 816.2L99.0 816.1L99.5 816.1L100.0 816.1L100.5 816.2L101.0 816.3L101.5 816.0L102.0 816.1L102.5 816.3L103.0 816.2L103.5 815.9L104.0 815.9L104.5 816.3L105.0 816.3L105.5 816.4L106.0 816.4L106.5 816.6L107.0 816.4L107.5 816.2L108.0 816.1L108.5 815.8L109.0 815.8L109.5 815.7L110.0 815.8L110.5 815.9L111.0 815.9L111.5 815.9L112.0 816.0L112.5 815.9L113.0 815.9L113.5 816.0L114.0 815.7L114.5 815.8L115.0 815.9L115.5 816.1L116.0 816.0L116.5 816.0L117.0 816.2L117.5 816.3L118.0 816.3L118.5 816.2L119.0 816.4L119.5 816.5L120.0 816.4L120.5 816.2L121.0 816.1L121.5 816.1L122.0 816.0L122.5 816.0L123.0 815.9L123.5 816.0L124.0 815.9L124.5 815.9L125.0 815.9L125.5 815.8L126.0 815.8L126.5 815.6L127.0 815.6L127.5 815.6L128.0 815.4L128.5 815.4L129.0 815.5L129.5 815.4L130.0 815.4L130.5 815.0L131.0 815.0L131.5 815.1L132.0 814.9L132.5 815.1L133.0 815.3L133.5 815.7L134.0 815.7L134.5 815.8L135.0 815.9L135.5 815.9L136.0 816.1L136.5 816.1L137.0 816.1L137.5 816.1L138.0 816.3L138.5 816.4L139.0 816.1L139.5 816.1L140.0 816.0L140.5 816.1L141.0 816.2L141.5 816.0L142.0 816.1L142.5 816.2L143.0 816.2L143.5 816.0L144.0 816.0L144.5 816.0L145.0 816.1L145.5 816.2L146.0 816.2L146.5 816.3L147.0 816.2L147.5 816.3L148.0 816.4L148.5 816.2L149.0 816.3L149.5 816.2L150.0 816.1L150.5 816.1L151.0 816.0L151.5 816.0L152.0 816.0L152.5 816.1L153.0 816.2L153.5 816.3L154.0 816.3L154.5 816.3L155.0 816.4L155.5 816.2L156.0 816.2L156.5 816.1L157.0 816.2L157.5 816.1L158.0 816.2L158.5 816.4L159.0 816.3L159.5 816.4L160.0 816.3L160.5 816.2L161.0 816.4L161.5 816.4L162.0 816.3L162.5 816.2L163.0 816.2L163.5 816.3L164.0 815.8L164.5 815.6L165.0 815.7L165.5 815.8L166.0 815.8L166.5 815.9L167.0 816.1L167.5 816.1L168.0 816.2L168.5 816.1L169.0 816.0L169.5 816.1L170.0 815.8L170.5 816.0L171.0 815.9L171.5 816.1L172.0 816.0L172.5 816.0L173.0 816.2L173.5 816.2L174.0 816.3L174.5 816.1L175.0 816.1L175.5 816.0L176.0 815.8L176.5 815.9L177.0 816.0L177.5 815.9L178.0 816.1L178.5 816.2L179.0 816.2L179.5 816.0L180.0 816.0L180.5 816.1L181.0 815.9L181.5 816.0L182.0 816.1L182.5 816.1L183.0 815.9L183.5 816.0L184.0 816.2L184.5 816.0L185.0 816.0L185.5 816.0L186.0 816.2L186.5 816.0L187.0 816.1L187.5 816.3L188.0 816.4L188.5 816.4L189.0 816.6L189.5 816.7L190.0 816.4L190.5 816.4L191.0 816.3L191.5 816.3L192.0 816.0L192.5 815.9L193.0 816.2L193.5 816.1L194.0 816.0L194.5 816.2L195.0 816.3L195.5 816.1L196.0 816.2L196.5 816.2L197.0 816.4L197.5 816.5L198.0 816.4L198.5 816.5L199.0 816.4L199.5 816.4L200.0 816.3L200.5 815.9L201.0 815.9L201.5 816.3L202.0 816.3L202.5 816.4L203.0 816.4L203.5 816.6L204.0 816.7L204.5 816.5L205.0 816.4L205.5 816.3L206.0 816.3L206.5 816.3L207.0 816.1L207.5 816.2L208.0 816.3L208.5 816.3L209.0 816.4L209.5 816.6L210.0 816.7L210.5 816.5L211.0 816.5L211.5 816.5L212.0 816.3L212.5 816.1L213.0 816.2L213.5 816.3L214.0 816.2L214.5 816.3L215.0 816.6L215.5 816.8L216.0 816.5L216.5 816.5L217.0 816.5L217.5 816.4L218.0 816.0L218.5 816.1L219.0 816.3L219.5 816.4L220.0 816.4L220.5 816.6L221.0 816.7L221.5 816.6L222.0 816.5L222.5 816.3L223.0 816.2L223.5 816.1L224.0 815.9L224.5 816.0L225.0 815.9L225.5 816.1L226.0 816.0L226.5 816.0L227.0 816.2L227.5 816.3L228.0 816.3L228.5 816.4L229.0 816.5L229.5 816.5L230.0 816.4L230.5 816.1L231.0 816.3L231.5 816.2L232.0 816.2L232.5 816.1L233.0 816.2L233.5 816.3L234.0 816.1L234.5 816.0L235.0 815.9L235.5 816.0L236.0 816.1L236.5 816.2L237.0 816.4L237.5 816.5L238.0 816.4L238.5 816.3L239.0 816.1L239.5 816.1L240.0 816.1L240.5 816.0L241.0 816.1L241.5 816.4L242.0 816.3L242.5 816.2L243.0 816.0L243.5 816.1L244.0 816.1L244.5 816.0L245.0 816.1L245.5 816.1L246.0 816.1L246.5 815.8L247.0 815.8L247.5 816.0L248.0 815.8L248.5 815.9L249.0 815.9L249.5 816.2L250.0 816.1L250.5 816.0L251.0 816.2L251.5 816.0L252.0 816.0L252.5 816.1L253.0 816.1L253.5 816.1L254.0 816.2L254.5 816.3L255.0 816.3L255.5 816.3L256.0 816.4L256.5 816.4L257.0 816.4L257.5 816.6L258.0 816.5L258.5 816.3L259.0 816.4L259.5 816.6L260.0 816.5L260.5 816.2L261.0 816.4L261.5 816.2L262.0 816.2L262.5 816.1L263.0 816.2L263.5 816.3L264.0 816.1L264.5 816.4L265.0 816.3L265.5 816.2L266.0 816.2L266.5 816.0L267.0 816.3L267.5 816.3L268.0 816.5L268.5 816.5L269.0 816.5L269.5 816.7L270.0 816.5L270.5 816.3L271.0 816.2L271.5 816.3L272.0 816.3L272.5 816.3L273.0 816.3L273.5 816.4L274.0 816.3L274.5 816.0L275.0 815.9L275.5 815.8L276.0 815.8L276.5 815.7L277.0 815.8L277.5 816.1L278.0 816.1L278.5 816.1L279.0 816.1L279.5 816.2L280.0 816.2L280.5 816.0L281.0 816.0L281.5 816.1L282.0 816.0L282.5 816.0L283.0 815.8L283.5 815.9L284.0 815.9L284.5 815.9L285.0 815.8L285.5 815.8L286.0 816.0L286.5 816.0L287.0 815.9L287.5 815.7L288.0 816.0L288.5 816.1L289.0 816.1L289.5 816.3L290.0 816.3L290.5 816.7L291.0 816.5L291.5 816.5L292.0 816.4L292.5 816.4L293.0 816.3L293.5 816.1L294.0 816.2L294.5 816.2L295.0 816.1L295.5 816.1L296.0 816.2L296.5 816.2L297.0 816.3L297.5 816.2L298.0 816.5L298.5 816.5L299.0 816.3L299.5 816.4L300.0 816.2L300.5 816.3L301.0 816.2L301.5 816.1L302.0 816.1L302.5 816.1L303.0 816.2L303.5 816.2L304.0 816.2L304.5 816.1L305.0 816.2L305.5 816.0L306.0 816.0L306.5 815.8L307.0 815.7L307.5 815.8L308.0 815.7L308.5 815.8L309.0 815.8L309.5 815.9L310.0 815.9L310.5 816.1L311.0 816.1L311.5 816.1L312.0 816.1L312.5 816.0L313.0 816.1L313.5 815.9L314.0 815.8L314.5 816.0L315.0 815.8L315.5 815.8L316.0 816.0L316.5 816.1L317.0 816.2L317.5 816.0L318.0 816.1L318.5 816.1L319.0 815.9L319.5 815.8L320.0 815.8L320.5 816.0L321.0 816.1L321.5 816.0L322.0 816.1L322.5 816.2L323.0 816.2L323.5 816.1L324.0 816.0L324.5 816.0L325.0 815.9L325.5 815.9L326.0 815.8L326.5 815.9L327.0 816.1L327.5 816.1L328.0 816.3L328.5 816.2L329.0 816.3L329.5 816.2L330.0 816.2L330.5 816.2L331.0 816.3L331.5 816.4L332.0 816.4L332.5 816.3L333.0 816.1L333.5 816.1L334.0 816.0L334.5 815.8L335.0 816.0L335.5 816.1L336.0 816.2L336.5 816.3L337.0 816.2L337.5 816.1L338.0 815.9L338.5 815.8L339.0 815.8L339.5 815.8L340.0 815.7L340.5 815.9L341.0 816.0L341.5 816.2L342.0 816.2L342.5 816.2L343.0 816.4L343.5 816.5L344.0 816.7L344.5 816.7L345.0 816.6L345.5 816.6L346.0 816.7L346.5 816.7L347.0 816.6L347.5 816.5L348.0 816.4L348.5 816.3L349.0 816.1L349.5 816.0L350.0 815.9L350.5 815.8L351.0 816.1L351.5 816.0L352.0 816.2L352.5 816.3L353.0 816.5L353.5 816.4L354.0 816.3L354.5 816.5L355.0 816.3L355.5 816.3L356.0 816.1L356.5 816.2L357.0 816.2L357.5 816.1L358.0 816.3L358.5 816.3L359.0 816.2L359.5 816.3L360.0 815.9L360.5 815.9L361.0 815.8L361.5 815.5L362.0 815.3L362.5 814.8L363.0 814.4L363.5 813.5L364.0 812.5L364.5 811.1L365.0 809.2L365.5 806.7L366.0 803.8L366.5 799.8L367.0 795.1L367.5 789.5L368.0 782.9L368.5 775.7L369.0 767.4L369.5 758.9L370.0 749.8L370.5 741.0L371.0 732.9L371.5 725.7L372.0 720.4L372.5 717.2L373.0 716.8L373.5 718.7L374.0 721.9L374.5 726.7L375.0 732.3L375.5 738.5L376.0 744.8L376.5 750.8L377.0 757.0L377.5 762.5L378.0 767.6L378.5 772.5L379.0 776.8L379.5 780.8L380.0 784.4L380.5 788.0L381.0 790.9L381.5 793.7L382.0 796.2L382.5 798.6L383.0 800.4L383.5 802.1L384.0 803.9L384.5 805.2L385.0 806.6L385.5 807.4L386.0 808.4L386.5 809.2L387.0 809.6L387.5 810.2L388.0 810.7L388.5 811.7L389.0 812.4L389.5 812.8L390.0 813.5L390.5 813.9L391.0 814.4L391.5 814.9L392.0 815.4L392.5 815.7L393.0 815.8L393.5 815.9L394.0 816.0L394.5 816.1L395.0 816.2L395.5 816.2L396.0 816.2L396.5 816.4L397.0 816.2L397.5 816.1L398.0 815.7L398.5 815.8L399.0 816.0L399.5 815.8L400.0 815.9L400.5 815.9L401.0 816.2L401.5 816.2L402.0 816.4L402.5 816.4L403.0 816.5L403.5 816.6L404.0 816.8L404.5 816.8L405.0 816.5L405.5 816.5L406.0 816.6L406.5 816.5L407.0 816.1L407.5 816.2L408.0 816.1L408.5 816.2L409.0 816.1L409.5 816.1L410.0 816.1L410.5 816.1L411.0 816.1L411.5 816.0L412.0 816.0L412.5 816.0L413.0 815.9L413.5 815.8L414.0 816.1L414.5 816.2L415.0 816.1L415.5 816.1L416.0 816.2L416.5 816.3L417.0 816.1L417.5 816.0L418.0 816.1L418.5 815.9L419.0 816.0L419.5 816.1L420.0 816.2L420.5 816.2L421.0 816.2L421.5 816.4L422.0 816.3L422.5 816.3L423.0 816.2L423.5 816.4L424.0 816.4L424.5 816.2L425.0 816.2L425.5 816.4L426.0 816.4L426.5 816.4L427.0 816.6L427.5 816.7L428.0 816.5L428.5 816.2L429.0 816.2L429.5 816.3L430.0 816.1L430.5 816.1L431.0 816.2L431.5 816.2L432.0 816.0L432.5 815.5L433.0 815.0L433.5 814.6L434.0 813.9L434.5 813.0L435.0 812.2L435.5 811.4L436.0 810.5L436.5 809.2L437.0 808.1L437.5 807.2L438.0 805.8L438.5 804.6L439.0 803.5L439.5 802.5L440.0 801.8L440.5 801.6L441.0 801.7L441.5 801.7L442.0 802.1L442.5 803.1L443.0 803.6L443.5 804.1L444.0 804.8L444.5 805.8L445.0 806.5L445.5 807.0L446.0 808.0L446.5 808.7L447.0 809.3L447.5 809.7L448.0 810.4L448.5 810.9L449.0 811.6L449.5 811.9L450.0 812.5L450.5 813.0L451.0 813.3L451.5 813.6L452.0 813.8L452.5 814.1L453.0 814.1L453.5 814.2L454.0 814.4L454.5 814.4L455.0 814.5L455.5 814.4L456.0 814.8L456.5 814.9L457.0 814.9L457.5 815.2L458.0 815.1L458.5 815.4L459.0 815.4L459.5 815.5L460.0 815.8L460.5 816.0L461.0 816.1L461.5 816.2L462.0 816.1L462.5 816.0L463.0 816.0L463.5 815.7L464.0 815.6L464.5 815.5L465.0 815.5L465.5 815.6L466.0 815.7L466.5 816.0L467.0 816.1L467.5 816.2L468.0 816.4L468.5 816.6L469.0 816.4L469.5 816.2L470.0 816.1L470.5 816.2L471.0 816.2L471.5 816.1L472.0 816.1L472.5 816.3L473.0 816.5L473.5 816.4L474.0 816.2L474.5 816.3L475.0 816.3L475.5 816.1L476.0 816.1L476.5 816.3L477.0 816.4L477.5 816.4L478.0 816.4L478.5 816.5L479.0 816.3L479.5 816.0L480.0 815.9L480.5 815.9L481.0 815.9L481.5 815.9L482.0 816.0L482.5 816.0L483.0 816.1L483.5 816.1L484.0 816.0L484.5 816.0L485.0 815.8L485.5 815.9L486.0 815.6L486.5 815.7L487.0 815.8L487.5 815.9L488.0 815.9L488.5 815.8L489.0 816.2L489.5 816.3L490.0 816.4L490.5 816.1L491.0 816.4L491.5 816.5L492.0 816.3L492.5 816.2L493.0 816.2L493.5 816.5L494.0 816.2L494.5 816.0L495.0 816.2L495.5 816.2L496.0 816.0L496.5 815.9L497.0 815.9L497.5 815.9L498.0 815.8L498.5 815.8L499.0 815.8L499.5 815.9L500.0 815.9L500.5 816.1L501.0 816.2L501.5 816.2L502.0 816.5L502.5 816.3L503.0 816.1L503.5 816.0L504.0 815.8L504.5 815.8L505.0 815.5L505.5 815.6L506.0 815.7L506.5 815.8L507.0 816.1L507.5 815.9L508.0 816.2L508.5 816.6L509.0 816.6L509.5 816.6L510.0 816.4L510.5 816.5L511.0 816.2L511.5 815.9L512.0 815.9L512.5 816.0L513.0 815.9L513.5 816.1L514.0 816.1L514.5 816.2L515.0 816.1L515.5 816.0L516.0 816.3L516.5 816.3L517.0 816.5L517.5 816.7L518.0 816.5L518.5 816.5L519.0 816.3L519.5 816.4L520.0 816.2L520.5 816.2L521.0 816.1L521.5 816.1L522.0 816.1L522.5 816.1L523.0 816.2L523.5 816.1L524.0 816.4L524.5 816.3L525.0 816.1L525.5 816.1L526.0 816.3L526.5 816.4L527.0 816.3L527.5 816.5L528.0 816.5L528.5 816.4L529.0 816.1L529.5 816.1L530.0 816.2L530.5 816.2L531.0 816.3L531.5 816.3L532.0 816.2L532.5 816.2L533.0 816.2L533.5 816.1L534.0 816.0L534.5 816.2L535.0 816.3L535.5 816.2L536.0 816.4L536.5 816.6L537.0 816.8L537.5 816.7L538.0 816.6L538.5 816.5L539.0 816.3L539.5 816.1L540.0 816.1L540.5 815.8L541.0 815.9L541.5 815.9L542.0 815.8L542.5 816.0L543.0 816.0L543.5 816.2L544.0 816.4L544.5 816.4L545.0 816.5L545.5 816.2L546.0 816.1L546.5 816.2L547.0 816.0L547.5 816.1L548.0 816.0L548.5 816.2L549.0 816.4L549.5 816.3L550.0 816.2L550.5 816.1L551.0 816.1L551.5 816.1L552.0 815.8L552.5 815.9L553.0 816.2L553.5 816.3L554.0 816.3L554.5 816.3L555.0 816.4L555.5 816.3L556.0 816.2L556.5 816.2L557.0 816.0L557.5 815.8L558.0 815.9L558.5 815.8L559.0 815.7L559.5 815.5L560.0 815.6L560.5 815.7L561.0 815.7L561.5 815.6L562.0 815.8L562.5 816.0L563.0 816.1L563.5 816.1L564.0 816.1L564.5 816.3L565.0 816.2L565.5 816.2L566.0 816.1L566.5 816.1L567.0 816.0L567.5 816.0L568.0 816.1L568.5 816.1L569.0 816.1L569.5 816.2L570.0 815.9L570.5 815.8L571.0 816.0L571.5 816.0L572.0 816.1L572.5 816.3L573.0 816.5L573.5 816.6L574.0 816.2L574.5 816.2L575.0 816.1L575.5 815.7L576.0 815.6L576.5 815.6L577.0 815.8L577.5 815.8L578.0 815.9L578.5 816.1L579.0 816.2L579.5 816.5L580.0 816.3L580.5 816.3L581.0 816.2L581.5 816.1L582.0 816.2L582.5 815.9L583.0 816.0L583.5 816.0L584.0 816.1L584.5 816.3L585.0 816.4L585.5 816.5L586.0 816.5L586.5 816.4L587.0 816.4L587.5 816.1L588.0 815.9L588.5 815.9L589.0 815.7L589.5 815.8L590.0 815.8L590.5 816.1L591.0 816.1L591.5 816.1L592.0 816.4L592.5 816.6L593.0 816.3L593.5 816.5L594.0 816.5L594.5 816.6L595.0 816.4L595.5 816.3L596.0 816.6L596.5 816.4L597.0 816.6L597.5 816.4L598.0 816.5L598.5 816.4L599.0 816.2L599.5 816.2L600.0 816.0L600.5 816.1L601.0 816.0L601.5 816.1L602.0 816.2L602.5 816.2L603.0 816.2L603.5 816.2L604.0 816.3L604.5 816.2L605.0 816.2L605.5 816.3L606.0 816.3L606.5 816.3L607.0 816.2L607.5 816.2L608.0 816.1L608.5 816.1L609.0 816.1L609.5 815.9L610.0 816.1L610.5 816.1L611.0 816.1L611.5 816.2L612.0 816.1L612.5 816.4L613.0 816.2L613.5 816.1L614.0 816.1L614.5 816.0L615.0 816.0L615.5 815.9L616.0 816.2L616.5 816.3L617.0 816.3L617.5 816.4L618.0 816.4L618.5 816.4L619.0 816.1L619.5 816.2L620.0 816.2L620.5 816.2L621.0 816.1L621.5 816.3L622.0 816.5L622.5 816.5L623.0 816.2L623.5 815.9L624.0 816.0L624.5 815.7L625.0 815.7L625.5 815.8L626.0 816.1L626.5 816.4L627.0 816.5L627.5 816.8L628.0 816.8L628.5 816.6L629.0 816.6L629.5 816.7L630.0 816.4L630.5 816.4L631.0 816.5L631.5 816.5L632.0 816.4L632.5 816.2L633.0 816.4L633.5 816.2L634.0 816.3L634.5 816.3L635.0 816.2L635.5 816.3L636.0 816.3L636.5 816.5L637.0 816.5L637.5 816.5L638.0 816.5L638.5 816.4L639.0 816.5L639.5 816.4L640.0 816.5L640.5 816.5L641.0 816.5L641.5 816.6L642.0 816.3L642.5 816.4L643.0 816.3L643.5 816.2L644.0 816.3L644.5 816.3L645.0 816.4L645.5 816.2L646.0 816.0L646.5 816.0L647.0 816.0L647.5 816.1L648.0 816.2L648.5 816.4L649.0 816.5L649.5 816.6L650.0 816.5L650.5 816.4L651.0 816.4L651.5 816.3L652.0 816.2L652.5 816.4L653.0 816.3L653.5 816.3L654.0 816.4L654.5 816.2L655.0 816.2L655.5 816.0L656.0 816.0L656.5 816.0L657.0 815.8L657.5 816.1L658.0 816.3L658.5 816.3L659.0 816.2L659.5 816.4L660.0 816.5L660.5 816.1L661.0 816.4L661.5 816.6L662.0 816.5L662.5 816.5L663.0 816.6L663.5 816.6L664.0 816.3L664.5 816.1L665.0 816.3L665.5 816.4L666.0 816.4L666.5 816.4L667.0 816.6L667.5 816.7L668.0 816.5L668.5 816.3L669.0 816.2L669.5 816.3L670.0 816.3L670.5 816.4L671.0 816.6L671.5 816.7" stroke-width="2.9"/>
<path d="M334.2 323.2L357 330" stroke-width="2.4"/>
<path d="M331.2 775.8L354 782.2" stroke-width="2.4"/>
</g>
</svg>
</body></html>
